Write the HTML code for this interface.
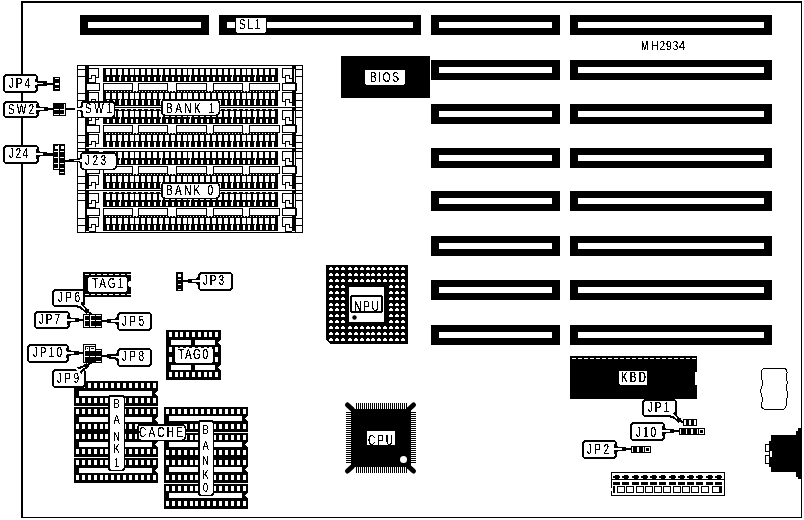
<!DOCTYPE html>
<html><head><meta charset="utf-8"><style>
html,body{margin:0;padding:0;background:#fff;}
svg{display:block;filter:grayscale(1);}
text{font-family:"Liberation Sans",sans-serif;}
</style></head><body>
<svg width="804" height="520" viewBox="0 0 804 520" shape-rendering="crispEdges">
<defs><filter id="crisp" x="-0.2" y="-0.2" width="1.4" height="1.4" filterUnits="objectBoundingBox"><feComponentTransfer><feFuncA type="discrete" tableValues="0 0 1 1 1"/></feComponentTransfer></filter></defs>
<rect x="0" y="0" width="804" height="520" fill="#fff"/>
<rect x="21" y="1" width="2" height="517" fill="#000"/>
<rect x="21" y="1" width="781" height="2" fill="#000"/>
<rect x="801" y="1" width="1" height="517" fill="#000"/>
<rect x="21" y="517" width="781" height="1" fill="#000"/>
<rect x="80" y="15" width="129" height="20" fill="#000"/>
<rect x="88" y="22" width="113" height="6" fill="#fff"/>
<rect x="219" y="15" width="202" height="20" fill="#000"/>
<rect x="227" y="22" width="8" height="6" fill="#fff"/>
<rect x="267" y="22" width="146" height="6" fill="#fff"/>
<rect x="431" y="15" width="129" height="20" fill="#000"/>
<rect x="439" y="22" width="113" height="6" fill="#fff"/>
<rect x="570" y="15" width="202" height="20" fill="#000"/>
<rect x="578" y="22" width="186" height="6" fill="#fff"/>
<rect x="431" y="60" width="129" height="20" fill="#000"/>
<rect x="439" y="67" width="113" height="6" fill="#fff"/>
<rect x="570" y="60" width="202" height="20" fill="#000"/>
<rect x="578" y="67" width="186" height="6" fill="#fff"/>
<rect x="431" y="104" width="129" height="20" fill="#000"/>
<rect x="439" y="111" width="113" height="6" fill="#fff"/>
<rect x="570" y="104" width="202" height="20" fill="#000"/>
<rect x="578" y="111" width="186" height="6" fill="#fff"/>
<rect x="431" y="148" width="129" height="20" fill="#000"/>
<rect x="439" y="155" width="113" height="6" fill="#fff"/>
<rect x="570" y="148" width="202" height="20" fill="#000"/>
<rect x="578" y="155" width="186" height="6" fill="#fff"/>
<rect x="431" y="191" width="129" height="20" fill="#000"/>
<rect x="439" y="198" width="113" height="6" fill="#fff"/>
<rect x="570" y="191" width="202" height="20" fill="#000"/>
<rect x="578" y="198" width="186" height="6" fill="#fff"/>
<rect x="431" y="236" width="129" height="20" fill="#000"/>
<rect x="439" y="243" width="113" height="6" fill="#fff"/>
<rect x="570" y="236" width="202" height="20" fill="#000"/>
<rect x="578" y="243" width="186" height="6" fill="#fff"/>
<rect x="431" y="280" width="129" height="20" fill="#000"/>
<rect x="439" y="287" width="113" height="6" fill="#fff"/>
<rect x="570" y="280" width="202" height="20" fill="#000"/>
<rect x="578" y="287" width="186" height="6" fill="#fff"/>
<rect x="431" y="325" width="129" height="20" fill="#000"/>
<rect x="439" y="332" width="113" height="6" fill="#fff"/>
<rect x="570" y="325" width="202" height="20" fill="#000"/>
<rect x="578" y="332" width="186" height="6" fill="#fff"/>
<rect x="341" y="56" width="89" height="42" fill="#000"/>
<text transform="translate(641,50) scale(0.72,1)" x="0" y="0" font-size="12.5" fill="#000" textLength="9.72" lengthAdjust="spacing" filter="url(#crisp)" >M</text>
<text transform="translate(651,50) scale(0.85,1)" x="0" y="0" font-size="12.5" fill="#000" textLength="40.00" lengthAdjust="spacing" filter="url(#crisp)" >H2934</text>
<rect x="77.5" y="65.5" width="225" height="167" fill="none" stroke="#000" stroke-width="1"/>
<rect x="103" y="68" width="175" height="14" fill="#000"/>
<rect x="106" y="69" width="4" height="6" fill="#fff"/>
<rect x="107" y="77" width="2" height="4" fill="#fff"/>
<rect x="112" y="69" width="4" height="6" fill="#fff"/>
<rect x="113" y="77" width="2" height="4" fill="#fff"/>
<rect x="118" y="69" width="4" height="6" fill="#fff"/>
<rect x="119" y="77" width="2" height="4" fill="#fff"/>
<rect x="120" y="75" width="1" height="6" fill="#fff"/>
<rect x="124" y="69" width="4" height="6" fill="#fff"/>
<rect x="125" y="77" width="2" height="4" fill="#fff"/>
<rect x="130" y="69" width="4" height="6" fill="#fff"/>
<rect x="131" y="77" width="2" height="4" fill="#fff"/>
<rect x="135" y="69" width="4" height="6" fill="#fff"/>
<rect x="136" y="77" width="2" height="4" fill="#fff"/>
<rect x="141" y="69" width="4" height="6" fill="#fff"/>
<rect x="142" y="77" width="2" height="4" fill="#fff"/>
<rect x="147" y="69" width="4" height="6" fill="#fff"/>
<rect x="148" y="77" width="2" height="4" fill="#fff"/>
<rect x="153" y="69" width="4" height="6" fill="#fff"/>
<rect x="154" y="77" width="2" height="4" fill="#fff"/>
<rect x="159" y="69" width="4" height="6" fill="#fff"/>
<rect x="160" y="77" width="2" height="4" fill="#fff"/>
<rect x="161" y="75" width="1" height="6" fill="#fff"/>
<rect x="165" y="69" width="4" height="6" fill="#fff"/>
<rect x="166" y="77" width="2" height="4" fill="#fff"/>
<rect x="171" y="69" width="4" height="6" fill="#fff"/>
<rect x="172" y="77" width="2" height="4" fill="#fff"/>
<rect x="177" y="69" width="4" height="6" fill="#fff"/>
<rect x="178" y="77" width="2" height="4" fill="#fff"/>
<rect x="183" y="69" width="4" height="6" fill="#fff"/>
<rect x="184" y="77" width="2" height="4" fill="#fff"/>
<rect x="188" y="69" width="4" height="6" fill="#fff"/>
<rect x="189" y="77" width="2" height="4" fill="#fff"/>
<rect x="190" y="75" width="1" height="6" fill="#fff"/>
<rect x="194" y="69" width="4" height="6" fill="#fff"/>
<rect x="195" y="77" width="2" height="4" fill="#fff"/>
<rect x="200" y="69" width="4" height="6" fill="#fff"/>
<rect x="201" y="77" width="2" height="4" fill="#fff"/>
<rect x="206" y="69" width="4" height="6" fill="#fff"/>
<rect x="207" y="77" width="2" height="4" fill="#fff"/>
<rect x="212" y="69" width="4" height="6" fill="#fff"/>
<rect x="213" y="77" width="2" height="4" fill="#fff"/>
<rect x="218" y="69" width="4" height="6" fill="#fff"/>
<rect x="219" y="77" width="2" height="4" fill="#fff"/>
<rect x="224" y="69" width="4" height="6" fill="#fff"/>
<rect x="225" y="77" width="2" height="4" fill="#fff"/>
<rect x="230" y="69" width="4" height="6" fill="#fff"/>
<rect x="231" y="77" width="2" height="4" fill="#fff"/>
<rect x="232" y="75" width="1" height="6" fill="#fff"/>
<rect x="236" y="69" width="4" height="6" fill="#fff"/>
<rect x="237" y="77" width="2" height="4" fill="#fff"/>
<rect x="242" y="69" width="4" height="6" fill="#fff"/>
<rect x="243" y="77" width="2" height="4" fill="#fff"/>
<rect x="247" y="69" width="4" height="6" fill="#fff"/>
<rect x="248" y="77" width="2" height="4" fill="#fff"/>
<rect x="253" y="69" width="4" height="6" fill="#fff"/>
<rect x="254" y="77" width="2" height="4" fill="#fff"/>
<rect x="255" y="75" width="1" height="6" fill="#fff"/>
<rect x="259" y="69" width="4" height="6" fill="#fff"/>
<rect x="260" y="77" width="2" height="4" fill="#fff"/>
<rect x="265" y="69" width="4" height="6" fill="#fff"/>
<rect x="266" y="77" width="2" height="4" fill="#fff"/>
<rect x="271" y="69" width="4" height="6" fill="#fff"/>
<rect x="272" y="77" width="2" height="4" fill="#fff"/>
<rect x="103" y="91" width="175" height="15" fill="#000"/>
<rect x="106" y="91" width="1" height="1" fill="#fff"/>
<rect x="109" y="91" width="1" height="1" fill="#fff"/>
<rect x="112" y="91" width="1" height="1" fill="#fff"/>
<rect x="115" y="91" width="1" height="1" fill="#fff"/>
<rect x="118" y="91" width="1" height="1" fill="#fff"/>
<rect x="121" y="91" width="1" height="1" fill="#fff"/>
<rect x="124" y="91" width="1" height="1" fill="#fff"/>
<rect x="127" y="91" width="1" height="1" fill="#fff"/>
<rect x="130" y="91" width="1" height="1" fill="#fff"/>
<rect x="133" y="91" width="1" height="1" fill="#fff"/>
<rect x="136" y="91" width="1" height="1" fill="#fff"/>
<rect x="139" y="91" width="1" height="1" fill="#fff"/>
<rect x="142" y="91" width="1" height="1" fill="#fff"/>
<rect x="145" y="91" width="1" height="1" fill="#fff"/>
<rect x="148" y="91" width="1" height="1" fill="#fff"/>
<rect x="151" y="91" width="1" height="1" fill="#fff"/>
<rect x="154" y="91" width="1" height="1" fill="#fff"/>
<rect x="157" y="91" width="1" height="1" fill="#fff"/>
<rect x="160" y="91" width="1" height="1" fill="#fff"/>
<rect x="163" y="91" width="1" height="1" fill="#fff"/>
<rect x="166" y="91" width="1" height="1" fill="#fff"/>
<rect x="169" y="91" width="1" height="1" fill="#fff"/>
<rect x="172" y="91" width="1" height="1" fill="#fff"/>
<rect x="175" y="91" width="1" height="1" fill="#fff"/>
<rect x="178" y="91" width="1" height="1" fill="#fff"/>
<rect x="181" y="91" width="1" height="1" fill="#fff"/>
<rect x="184" y="91" width="1" height="1" fill="#fff"/>
<rect x="187" y="91" width="1" height="1" fill="#fff"/>
<rect x="190" y="91" width="1" height="1" fill="#fff"/>
<rect x="193" y="91" width="1" height="1" fill="#fff"/>
<rect x="196" y="91" width="1" height="1" fill="#fff"/>
<rect x="199" y="91" width="1" height="1" fill="#fff"/>
<rect x="202" y="91" width="1" height="1" fill="#fff"/>
<rect x="205" y="91" width="1" height="1" fill="#fff"/>
<rect x="208" y="91" width="1" height="1" fill="#fff"/>
<rect x="211" y="91" width="1" height="1" fill="#fff"/>
<rect x="214" y="91" width="1" height="1" fill="#fff"/>
<rect x="217" y="91" width="1" height="1" fill="#fff"/>
<rect x="220" y="91" width="1" height="1" fill="#fff"/>
<rect x="223" y="91" width="1" height="1" fill="#fff"/>
<rect x="226" y="91" width="1" height="1" fill="#fff"/>
<rect x="229" y="91" width="1" height="1" fill="#fff"/>
<rect x="232" y="91" width="1" height="1" fill="#fff"/>
<rect x="235" y="91" width="1" height="1" fill="#fff"/>
<rect x="238" y="91" width="1" height="1" fill="#fff"/>
<rect x="241" y="91" width="1" height="1" fill="#fff"/>
<rect x="244" y="91" width="1" height="1" fill="#fff"/>
<rect x="247" y="91" width="1" height="1" fill="#fff"/>
<rect x="250" y="91" width="1" height="1" fill="#fff"/>
<rect x="253" y="91" width="1" height="1" fill="#fff"/>
<rect x="256" y="91" width="1" height="1" fill="#fff"/>
<rect x="259" y="91" width="1" height="1" fill="#fff"/>
<rect x="262" y="91" width="1" height="1" fill="#fff"/>
<rect x="265" y="91" width="1" height="1" fill="#fff"/>
<rect x="268" y="91" width="1" height="1" fill="#fff"/>
<rect x="271" y="91" width="1" height="1" fill="#fff"/>
<rect x="274" y="91" width="1" height="1" fill="#fff"/>
<rect x="106" y="93" width="4" height="6" fill="#fff"/>
<rect x="107" y="100" width="2" height="5" fill="#fff"/>
<rect x="112" y="93" width="4" height="6" fill="#fff"/>
<rect x="113" y="100" width="2" height="5" fill="#fff"/>
<rect x="118" y="93" width="4" height="6" fill="#fff"/>
<rect x="119" y="100" width="2" height="5" fill="#fff"/>
<rect x="120" y="99" width="1" height="6" fill="#fff"/>
<rect x="124" y="93" width="4" height="6" fill="#fff"/>
<rect x="125" y="100" width="2" height="5" fill="#fff"/>
<rect x="130" y="93" width="4" height="6" fill="#fff"/>
<rect x="131" y="100" width="2" height="5" fill="#fff"/>
<rect x="135" y="93" width="4" height="6" fill="#fff"/>
<rect x="136" y="100" width="2" height="5" fill="#fff"/>
<rect x="141" y="93" width="4" height="6" fill="#fff"/>
<rect x="142" y="100" width="2" height="5" fill="#fff"/>
<rect x="147" y="93" width="4" height="6" fill="#fff"/>
<rect x="148" y="100" width="2" height="5" fill="#fff"/>
<rect x="153" y="93" width="4" height="6" fill="#fff"/>
<rect x="154" y="100" width="2" height="5" fill="#fff"/>
<rect x="159" y="93" width="4" height="6" fill="#fff"/>
<rect x="160" y="100" width="2" height="5" fill="#fff"/>
<rect x="161" y="99" width="1" height="6" fill="#fff"/>
<rect x="165" y="93" width="4" height="6" fill="#fff"/>
<rect x="166" y="100" width="2" height="5" fill="#fff"/>
<rect x="171" y="93" width="4" height="6" fill="#fff"/>
<rect x="172" y="100" width="2" height="5" fill="#fff"/>
<rect x="177" y="93" width="4" height="6" fill="#fff"/>
<rect x="178" y="100" width="2" height="5" fill="#fff"/>
<rect x="183" y="93" width="4" height="6" fill="#fff"/>
<rect x="184" y="100" width="2" height="5" fill="#fff"/>
<rect x="188" y="93" width="4" height="6" fill="#fff"/>
<rect x="189" y="100" width="2" height="5" fill="#fff"/>
<rect x="190" y="99" width="1" height="6" fill="#fff"/>
<rect x="194" y="93" width="4" height="6" fill="#fff"/>
<rect x="195" y="100" width="2" height="5" fill="#fff"/>
<rect x="200" y="93" width="4" height="6" fill="#fff"/>
<rect x="201" y="100" width="2" height="5" fill="#fff"/>
<rect x="206" y="93" width="4" height="6" fill="#fff"/>
<rect x="207" y="100" width="2" height="5" fill="#fff"/>
<rect x="212" y="93" width="4" height="6" fill="#fff"/>
<rect x="213" y="100" width="2" height="5" fill="#fff"/>
<rect x="218" y="93" width="4" height="6" fill="#fff"/>
<rect x="219" y="100" width="2" height="5" fill="#fff"/>
<rect x="224" y="93" width="4" height="6" fill="#fff"/>
<rect x="225" y="100" width="2" height="5" fill="#fff"/>
<rect x="230" y="93" width="4" height="6" fill="#fff"/>
<rect x="231" y="100" width="2" height="5" fill="#fff"/>
<rect x="232" y="99" width="1" height="6" fill="#fff"/>
<rect x="236" y="93" width="4" height="6" fill="#fff"/>
<rect x="237" y="100" width="2" height="5" fill="#fff"/>
<rect x="242" y="93" width="4" height="6" fill="#fff"/>
<rect x="243" y="100" width="2" height="5" fill="#fff"/>
<rect x="247" y="93" width="4" height="6" fill="#fff"/>
<rect x="248" y="100" width="2" height="5" fill="#fff"/>
<rect x="253" y="93" width="4" height="6" fill="#fff"/>
<rect x="254" y="100" width="2" height="5" fill="#fff"/>
<rect x="255" y="99" width="1" height="6" fill="#fff"/>
<rect x="259" y="93" width="4" height="6" fill="#fff"/>
<rect x="260" y="100" width="2" height="5" fill="#fff"/>
<rect x="265" y="93" width="4" height="6" fill="#fff"/>
<rect x="266" y="100" width="2" height="5" fill="#fff"/>
<rect x="271" y="93" width="4" height="6" fill="#fff"/>
<rect x="272" y="100" width="2" height="5" fill="#fff"/>
<rect x="103.5" y="83.5" width="29" height="7" fill="#fff" stroke="#000" stroke-width="1"/>
<rect x="138.5" y="83.5" width="29" height="7" fill="#fff" stroke="#000" stroke-width="1"/>
<rect x="176.5" y="83.5" width="30" height="7" fill="#fff" stroke="#000" stroke-width="1"/>
<rect x="213.5" y="83.5" width="29" height="7" fill="#fff" stroke="#000" stroke-width="1"/>
<rect x="249.5" y="83.5" width="30" height="7" fill="#fff" stroke="#000" stroke-width="1"/>
<rect x="85" y="65" width="4" height="41" fill="#000"/>
<rect x="86.5" y="83.5" width="13" height="7" fill="#fff" stroke="#000" stroke-width="1"/>
<rect x="89" y="68" width="10" height="1" fill="#000"/>
<rect x="98" y="68" width="1" height="10" fill="#000"/>
<rect x="95" y="77" width="4" height="1" fill="#000"/>
<rect x="95" y="75" width="1" height="8" fill="#000"/>
<rect x="91" y="75" width="5" height="1" fill="#000"/>
<rect x="91" y="75" width="1" height="4" fill="#000"/>
<rect x="89" y="78" width="3" height="1" fill="#000"/>
<rect x="89" y="82" width="7" height="1" fill="#000"/>
<rect x="89" y="92" width="10" height="1" fill="#000"/>
<rect x="98" y="92" width="1" height="10" fill="#000"/>
<rect x="95" y="101" width="4" height="1" fill="#000"/>
<rect x="95" y="99" width="1" height="8" fill="#000"/>
<rect x="91" y="99" width="5" height="1" fill="#000"/>
<rect x="91" y="99" width="1" height="4" fill="#000"/>
<rect x="89" y="102" width="3" height="1" fill="#000"/>
<rect x="89" y="106" width="7" height="1" fill="#000"/>
<rect x="292" y="65" width="4" height="41" fill="#000"/>
<rect x="294" y="69" width="1" height="13" fill="#fff"/>
<rect x="282.5" y="83.5" width="14" height="7" fill="#fff" stroke="#000" stroke-width="1"/>
<rect x="282" y="68" width="10" height="1" fill="#000"/>
<rect x="282" y="68" width="1" height="10" fill="#000"/>
<rect x="282" y="77" width="4" height="1" fill="#000"/>
<rect x="285" y="75" width="1" height="8" fill="#000"/>
<rect x="285" y="75" width="5" height="1" fill="#000"/>
<rect x="289" y="75" width="1" height="4" fill="#000"/>
<rect x="289" y="78" width="3" height="1" fill="#000"/>
<rect x="285" y="82" width="7" height="1" fill="#000"/>
<rect x="282" y="92" width="10" height="1" fill="#000"/>
<rect x="282" y="92" width="1" height="10" fill="#000"/>
<rect x="282" y="101" width="4" height="1" fill="#000"/>
<rect x="285" y="99" width="1" height="8" fill="#000"/>
<rect x="285" y="99" width="5" height="1" fill="#000"/>
<rect x="289" y="99" width="1" height="4" fill="#000"/>
<rect x="289" y="102" width="3" height="1" fill="#000"/>
<rect x="285" y="106" width="7" height="1" fill="#000"/>
<rect x="77" y="69" width="9" height="1" fill="#000"/>
<rect x="77" y="76" width="9" height="1" fill="#000"/>
<rect x="77" y="93" width="9" height="1" fill="#000"/>
<rect x="77" y="100" width="9" height="1" fill="#000"/>
<rect x="295" y="69" width="8" height="1" fill="#000"/>
<rect x="295" y="76" width="8" height="1" fill="#000"/>
<rect x="295" y="93" width="8" height="1" fill="#000"/>
<rect x="295" y="100" width="8" height="1" fill="#000"/>
<rect x="78" y="106" width="224" height="1" fill="#fff"/>
<rect x="78" y="107" width="224" height="1" fill="#000"/>
<rect x="78" y="108" width="224" height="1" fill="#fff"/>
<rect x="103" y="109" width="175" height="1" fill="#000"/>
<rect x="107" y="109" width="2" height="1" fill="#fff"/>
<rect x="113" y="109" width="2" height="1" fill="#fff"/>
<rect x="119" y="109" width="2" height="1" fill="#fff"/>
<rect x="125" y="109" width="2" height="1" fill="#fff"/>
<rect x="131" y="109" width="2" height="1" fill="#fff"/>
<rect x="136" y="109" width="2" height="1" fill="#fff"/>
<rect x="142" y="109" width="2" height="1" fill="#fff"/>
<rect x="148" y="109" width="2" height="1" fill="#fff"/>
<rect x="154" y="109" width="2" height="1" fill="#fff"/>
<rect x="160" y="109" width="2" height="1" fill="#fff"/>
<rect x="166" y="109" width="2" height="1" fill="#fff"/>
<rect x="172" y="109" width="2" height="1" fill="#fff"/>
<rect x="178" y="109" width="2" height="1" fill="#fff"/>
<rect x="184" y="109" width="2" height="1" fill="#fff"/>
<rect x="189" y="109" width="2" height="1" fill="#fff"/>
<rect x="195" y="109" width="2" height="1" fill="#fff"/>
<rect x="201" y="109" width="2" height="1" fill="#fff"/>
<rect x="207" y="109" width="2" height="1" fill="#fff"/>
<rect x="213" y="109" width="2" height="1" fill="#fff"/>
<rect x="219" y="109" width="2" height="1" fill="#fff"/>
<rect x="225" y="109" width="2" height="1" fill="#fff"/>
<rect x="231" y="109" width="2" height="1" fill="#fff"/>
<rect x="237" y="109" width="2" height="1" fill="#fff"/>
<rect x="243" y="109" width="2" height="1" fill="#fff"/>
<rect x="248" y="109" width="2" height="1" fill="#fff"/>
<rect x="254" y="109" width="2" height="1" fill="#fff"/>
<rect x="260" y="109" width="2" height="1" fill="#fff"/>
<rect x="266" y="109" width="2" height="1" fill="#fff"/>
<rect x="272" y="109" width="2" height="1" fill="#fff"/>
<rect x="103" y="110" width="175" height="14" fill="#000"/>
<rect x="106" y="111" width="4" height="6" fill="#fff"/>
<rect x="107" y="119" width="2" height="4" fill="#fff"/>
<rect x="112" y="111" width="4" height="6" fill="#fff"/>
<rect x="113" y="119" width="2" height="4" fill="#fff"/>
<rect x="118" y="111" width="4" height="6" fill="#fff"/>
<rect x="119" y="119" width="2" height="4" fill="#fff"/>
<rect x="120" y="117" width="1" height="6" fill="#fff"/>
<rect x="124" y="111" width="4" height="6" fill="#fff"/>
<rect x="125" y="119" width="2" height="4" fill="#fff"/>
<rect x="130" y="111" width="4" height="6" fill="#fff"/>
<rect x="131" y="119" width="2" height="4" fill="#fff"/>
<rect x="135" y="111" width="4" height="6" fill="#fff"/>
<rect x="136" y="119" width="2" height="4" fill="#fff"/>
<rect x="141" y="111" width="4" height="6" fill="#fff"/>
<rect x="142" y="119" width="2" height="4" fill="#fff"/>
<rect x="147" y="111" width="4" height="6" fill="#fff"/>
<rect x="148" y="119" width="2" height="4" fill="#fff"/>
<rect x="153" y="111" width="4" height="6" fill="#fff"/>
<rect x="154" y="119" width="2" height="4" fill="#fff"/>
<rect x="159" y="111" width="4" height="6" fill="#fff"/>
<rect x="160" y="119" width="2" height="4" fill="#fff"/>
<rect x="161" y="117" width="1" height="6" fill="#fff"/>
<rect x="165" y="111" width="4" height="6" fill="#fff"/>
<rect x="166" y="119" width="2" height="4" fill="#fff"/>
<rect x="171" y="111" width="4" height="6" fill="#fff"/>
<rect x="172" y="119" width="2" height="4" fill="#fff"/>
<rect x="177" y="111" width="4" height="6" fill="#fff"/>
<rect x="178" y="119" width="2" height="4" fill="#fff"/>
<rect x="183" y="111" width="4" height="6" fill="#fff"/>
<rect x="184" y="119" width="2" height="4" fill="#fff"/>
<rect x="188" y="111" width="4" height="6" fill="#fff"/>
<rect x="189" y="119" width="2" height="4" fill="#fff"/>
<rect x="190" y="117" width="1" height="6" fill="#fff"/>
<rect x="194" y="111" width="4" height="6" fill="#fff"/>
<rect x="195" y="119" width="2" height="4" fill="#fff"/>
<rect x="200" y="111" width="4" height="6" fill="#fff"/>
<rect x="201" y="119" width="2" height="4" fill="#fff"/>
<rect x="206" y="111" width="4" height="6" fill="#fff"/>
<rect x="207" y="119" width="2" height="4" fill="#fff"/>
<rect x="212" y="111" width="4" height="6" fill="#fff"/>
<rect x="213" y="119" width="2" height="4" fill="#fff"/>
<rect x="218" y="111" width="4" height="6" fill="#fff"/>
<rect x="219" y="119" width="2" height="4" fill="#fff"/>
<rect x="224" y="111" width="4" height="6" fill="#fff"/>
<rect x="225" y="119" width="2" height="4" fill="#fff"/>
<rect x="230" y="111" width="4" height="6" fill="#fff"/>
<rect x="231" y="119" width="2" height="4" fill="#fff"/>
<rect x="232" y="117" width="1" height="6" fill="#fff"/>
<rect x="236" y="111" width="4" height="6" fill="#fff"/>
<rect x="237" y="119" width="2" height="4" fill="#fff"/>
<rect x="242" y="111" width="4" height="6" fill="#fff"/>
<rect x="243" y="119" width="2" height="4" fill="#fff"/>
<rect x="247" y="111" width="4" height="6" fill="#fff"/>
<rect x="248" y="119" width="2" height="4" fill="#fff"/>
<rect x="253" y="111" width="4" height="6" fill="#fff"/>
<rect x="254" y="119" width="2" height="4" fill="#fff"/>
<rect x="255" y="117" width="1" height="6" fill="#fff"/>
<rect x="259" y="111" width="4" height="6" fill="#fff"/>
<rect x="260" y="119" width="2" height="4" fill="#fff"/>
<rect x="265" y="111" width="4" height="6" fill="#fff"/>
<rect x="266" y="119" width="2" height="4" fill="#fff"/>
<rect x="271" y="111" width="4" height="6" fill="#fff"/>
<rect x="272" y="119" width="2" height="4" fill="#fff"/>
<rect x="103" y="133" width="175" height="14" fill="#000"/>
<rect x="106" y="133" width="1" height="1" fill="#fff"/>
<rect x="109" y="133" width="1" height="1" fill="#fff"/>
<rect x="112" y="133" width="1" height="1" fill="#fff"/>
<rect x="115" y="133" width="1" height="1" fill="#fff"/>
<rect x="118" y="133" width="1" height="1" fill="#fff"/>
<rect x="121" y="133" width="1" height="1" fill="#fff"/>
<rect x="124" y="133" width="1" height="1" fill="#fff"/>
<rect x="127" y="133" width="1" height="1" fill="#fff"/>
<rect x="130" y="133" width="1" height="1" fill="#fff"/>
<rect x="133" y="133" width="1" height="1" fill="#fff"/>
<rect x="136" y="133" width="1" height="1" fill="#fff"/>
<rect x="139" y="133" width="1" height="1" fill="#fff"/>
<rect x="142" y="133" width="1" height="1" fill="#fff"/>
<rect x="145" y="133" width="1" height="1" fill="#fff"/>
<rect x="148" y="133" width="1" height="1" fill="#fff"/>
<rect x="151" y="133" width="1" height="1" fill="#fff"/>
<rect x="154" y="133" width="1" height="1" fill="#fff"/>
<rect x="157" y="133" width="1" height="1" fill="#fff"/>
<rect x="160" y="133" width="1" height="1" fill="#fff"/>
<rect x="163" y="133" width="1" height="1" fill="#fff"/>
<rect x="166" y="133" width="1" height="1" fill="#fff"/>
<rect x="169" y="133" width="1" height="1" fill="#fff"/>
<rect x="172" y="133" width="1" height="1" fill="#fff"/>
<rect x="175" y="133" width="1" height="1" fill="#fff"/>
<rect x="178" y="133" width="1" height="1" fill="#fff"/>
<rect x="181" y="133" width="1" height="1" fill="#fff"/>
<rect x="184" y="133" width="1" height="1" fill="#fff"/>
<rect x="187" y="133" width="1" height="1" fill="#fff"/>
<rect x="190" y="133" width="1" height="1" fill="#fff"/>
<rect x="193" y="133" width="1" height="1" fill="#fff"/>
<rect x="196" y="133" width="1" height="1" fill="#fff"/>
<rect x="199" y="133" width="1" height="1" fill="#fff"/>
<rect x="202" y="133" width="1" height="1" fill="#fff"/>
<rect x="205" y="133" width="1" height="1" fill="#fff"/>
<rect x="208" y="133" width="1" height="1" fill="#fff"/>
<rect x="211" y="133" width="1" height="1" fill="#fff"/>
<rect x="214" y="133" width="1" height="1" fill="#fff"/>
<rect x="217" y="133" width="1" height="1" fill="#fff"/>
<rect x="220" y="133" width="1" height="1" fill="#fff"/>
<rect x="223" y="133" width="1" height="1" fill="#fff"/>
<rect x="226" y="133" width="1" height="1" fill="#fff"/>
<rect x="229" y="133" width="1" height="1" fill="#fff"/>
<rect x="232" y="133" width="1" height="1" fill="#fff"/>
<rect x="235" y="133" width="1" height="1" fill="#fff"/>
<rect x="238" y="133" width="1" height="1" fill="#fff"/>
<rect x="241" y="133" width="1" height="1" fill="#fff"/>
<rect x="244" y="133" width="1" height="1" fill="#fff"/>
<rect x="247" y="133" width="1" height="1" fill="#fff"/>
<rect x="250" y="133" width="1" height="1" fill="#fff"/>
<rect x="253" y="133" width="1" height="1" fill="#fff"/>
<rect x="256" y="133" width="1" height="1" fill="#fff"/>
<rect x="259" y="133" width="1" height="1" fill="#fff"/>
<rect x="262" y="133" width="1" height="1" fill="#fff"/>
<rect x="265" y="133" width="1" height="1" fill="#fff"/>
<rect x="268" y="133" width="1" height="1" fill="#fff"/>
<rect x="271" y="133" width="1" height="1" fill="#fff"/>
<rect x="274" y="133" width="1" height="1" fill="#fff"/>
<rect x="106" y="135" width="4" height="6" fill="#fff"/>
<rect x="107" y="142" width="2" height="5" fill="#fff"/>
<rect x="112" y="135" width="4" height="6" fill="#fff"/>
<rect x="113" y="142" width="2" height="5" fill="#fff"/>
<rect x="118" y="135" width="4" height="6" fill="#fff"/>
<rect x="119" y="142" width="2" height="5" fill="#fff"/>
<rect x="120" y="141" width="1" height="6" fill="#fff"/>
<rect x="124" y="135" width="4" height="6" fill="#fff"/>
<rect x="125" y="142" width="2" height="5" fill="#fff"/>
<rect x="130" y="135" width="4" height="6" fill="#fff"/>
<rect x="131" y="142" width="2" height="5" fill="#fff"/>
<rect x="135" y="135" width="4" height="6" fill="#fff"/>
<rect x="136" y="142" width="2" height="5" fill="#fff"/>
<rect x="141" y="135" width="4" height="6" fill="#fff"/>
<rect x="142" y="142" width="2" height="5" fill="#fff"/>
<rect x="147" y="135" width="4" height="6" fill="#fff"/>
<rect x="148" y="142" width="2" height="5" fill="#fff"/>
<rect x="153" y="135" width="4" height="6" fill="#fff"/>
<rect x="154" y="142" width="2" height="5" fill="#fff"/>
<rect x="159" y="135" width="4" height="6" fill="#fff"/>
<rect x="160" y="142" width="2" height="5" fill="#fff"/>
<rect x="161" y="141" width="1" height="6" fill="#fff"/>
<rect x="165" y="135" width="4" height="6" fill="#fff"/>
<rect x="166" y="142" width="2" height="5" fill="#fff"/>
<rect x="171" y="135" width="4" height="6" fill="#fff"/>
<rect x="172" y="142" width="2" height="5" fill="#fff"/>
<rect x="177" y="135" width="4" height="6" fill="#fff"/>
<rect x="178" y="142" width="2" height="5" fill="#fff"/>
<rect x="183" y="135" width="4" height="6" fill="#fff"/>
<rect x="184" y="142" width="2" height="5" fill="#fff"/>
<rect x="188" y="135" width="4" height="6" fill="#fff"/>
<rect x="189" y="142" width="2" height="5" fill="#fff"/>
<rect x="190" y="141" width="1" height="6" fill="#fff"/>
<rect x="194" y="135" width="4" height="6" fill="#fff"/>
<rect x="195" y="142" width="2" height="5" fill="#fff"/>
<rect x="200" y="135" width="4" height="6" fill="#fff"/>
<rect x="201" y="142" width="2" height="5" fill="#fff"/>
<rect x="206" y="135" width="4" height="6" fill="#fff"/>
<rect x="207" y="142" width="2" height="5" fill="#fff"/>
<rect x="212" y="135" width="4" height="6" fill="#fff"/>
<rect x="213" y="142" width="2" height="5" fill="#fff"/>
<rect x="218" y="135" width="4" height="6" fill="#fff"/>
<rect x="219" y="142" width="2" height="5" fill="#fff"/>
<rect x="224" y="135" width="4" height="6" fill="#fff"/>
<rect x="225" y="142" width="2" height="5" fill="#fff"/>
<rect x="230" y="135" width="4" height="6" fill="#fff"/>
<rect x="231" y="142" width="2" height="5" fill="#fff"/>
<rect x="232" y="141" width="1" height="6" fill="#fff"/>
<rect x="236" y="135" width="4" height="6" fill="#fff"/>
<rect x="237" y="142" width="2" height="5" fill="#fff"/>
<rect x="242" y="135" width="4" height="6" fill="#fff"/>
<rect x="243" y="142" width="2" height="5" fill="#fff"/>
<rect x="247" y="135" width="4" height="6" fill="#fff"/>
<rect x="248" y="142" width="2" height="5" fill="#fff"/>
<rect x="253" y="135" width="4" height="6" fill="#fff"/>
<rect x="254" y="142" width="2" height="5" fill="#fff"/>
<rect x="255" y="141" width="1" height="6" fill="#fff"/>
<rect x="259" y="135" width="4" height="6" fill="#fff"/>
<rect x="260" y="142" width="2" height="5" fill="#fff"/>
<rect x="265" y="135" width="4" height="6" fill="#fff"/>
<rect x="266" y="142" width="2" height="5" fill="#fff"/>
<rect x="271" y="135" width="4" height="6" fill="#fff"/>
<rect x="272" y="142" width="2" height="5" fill="#fff"/>
<rect x="103.5" y="125.5" width="29" height="7" fill="#fff" stroke="#000" stroke-width="1"/>
<rect x="138.5" y="125.5" width="29" height="7" fill="#fff" stroke="#000" stroke-width="1"/>
<rect x="176.5" y="125.5" width="30" height="7" fill="#fff" stroke="#000" stroke-width="1"/>
<rect x="213.5" y="125.5" width="29" height="7" fill="#fff" stroke="#000" stroke-width="1"/>
<rect x="249.5" y="125.5" width="30" height="7" fill="#fff" stroke="#000" stroke-width="1"/>
<rect x="85" y="108" width="4" height="39" fill="#000"/>
<rect x="86.5" y="125.5" width="13" height="7" fill="#fff" stroke="#000" stroke-width="1"/>
<rect x="89" y="110" width="10" height="1" fill="#000"/>
<rect x="98" y="110" width="1" height="10" fill="#000"/>
<rect x="95" y="119" width="4" height="1" fill="#000"/>
<rect x="95" y="117" width="1" height="8" fill="#000"/>
<rect x="91" y="117" width="5" height="1" fill="#000"/>
<rect x="91" y="117" width="1" height="4" fill="#000"/>
<rect x="89" y="120" width="3" height="1" fill="#000"/>
<rect x="89" y="124" width="7" height="1" fill="#000"/>
<rect x="89" y="134" width="10" height="1" fill="#000"/>
<rect x="98" y="134" width="1" height="10" fill="#000"/>
<rect x="95" y="143" width="4" height="1" fill="#000"/>
<rect x="95" y="141" width="1" height="8" fill="#000"/>
<rect x="91" y="141" width="5" height="1" fill="#000"/>
<rect x="91" y="141" width="1" height="4" fill="#000"/>
<rect x="89" y="144" width="3" height="1" fill="#000"/>
<rect x="89" y="148" width="7" height="1" fill="#000"/>
<rect x="292" y="108" width="4" height="39" fill="#000"/>
<rect x="294" y="111" width="1" height="13" fill="#fff"/>
<rect x="282.5" y="125.5" width="14" height="7" fill="#fff" stroke="#000" stroke-width="1"/>
<rect x="282" y="110" width="10" height="1" fill="#000"/>
<rect x="282" y="110" width="1" height="10" fill="#000"/>
<rect x="282" y="119" width="4" height="1" fill="#000"/>
<rect x="285" y="117" width="1" height="8" fill="#000"/>
<rect x="285" y="117" width="5" height="1" fill="#000"/>
<rect x="289" y="117" width="1" height="4" fill="#000"/>
<rect x="289" y="120" width="3" height="1" fill="#000"/>
<rect x="285" y="124" width="7" height="1" fill="#000"/>
<rect x="282" y="134" width="10" height="1" fill="#000"/>
<rect x="282" y="134" width="1" height="10" fill="#000"/>
<rect x="282" y="143" width="4" height="1" fill="#000"/>
<rect x="285" y="141" width="1" height="8" fill="#000"/>
<rect x="285" y="141" width="5" height="1" fill="#000"/>
<rect x="289" y="141" width="1" height="4" fill="#000"/>
<rect x="289" y="144" width="3" height="1" fill="#000"/>
<rect x="285" y="148" width="7" height="1" fill="#000"/>
<rect x="77" y="110" width="9" height="1" fill="#000"/>
<rect x="77" y="117" width="9" height="1" fill="#000"/>
<rect x="77" y="135" width="9" height="1" fill="#000"/>
<rect x="77" y="142" width="9" height="1" fill="#000"/>
<rect x="295" y="110" width="8" height="1" fill="#000"/>
<rect x="295" y="117" width="8" height="1" fill="#000"/>
<rect x="295" y="135" width="8" height="1" fill="#000"/>
<rect x="295" y="142" width="8" height="1" fill="#000"/>
<rect x="78" y="147" width="224" height="1" fill="#fff"/>
<rect x="78" y="148" width="224" height="1" fill="#000"/>
<rect x="78" y="149" width="224" height="1" fill="#fff"/>
<rect x="78" y="150" width="224" height="1" fill="#fff"/>
<rect x="103" y="151" width="175" height="1" fill="#000"/>
<rect x="107" y="151" width="2" height="1" fill="#fff"/>
<rect x="113" y="151" width="2" height="1" fill="#fff"/>
<rect x="119" y="151" width="2" height="1" fill="#fff"/>
<rect x="125" y="151" width="2" height="1" fill="#fff"/>
<rect x="131" y="151" width="2" height="1" fill="#fff"/>
<rect x="136" y="151" width="2" height="1" fill="#fff"/>
<rect x="142" y="151" width="2" height="1" fill="#fff"/>
<rect x="148" y="151" width="2" height="1" fill="#fff"/>
<rect x="154" y="151" width="2" height="1" fill="#fff"/>
<rect x="160" y="151" width="2" height="1" fill="#fff"/>
<rect x="166" y="151" width="2" height="1" fill="#fff"/>
<rect x="172" y="151" width="2" height="1" fill="#fff"/>
<rect x="178" y="151" width="2" height="1" fill="#fff"/>
<rect x="184" y="151" width="2" height="1" fill="#fff"/>
<rect x="189" y="151" width="2" height="1" fill="#fff"/>
<rect x="195" y="151" width="2" height="1" fill="#fff"/>
<rect x="201" y="151" width="2" height="1" fill="#fff"/>
<rect x="207" y="151" width="2" height="1" fill="#fff"/>
<rect x="213" y="151" width="2" height="1" fill="#fff"/>
<rect x="219" y="151" width="2" height="1" fill="#fff"/>
<rect x="225" y="151" width="2" height="1" fill="#fff"/>
<rect x="231" y="151" width="2" height="1" fill="#fff"/>
<rect x="237" y="151" width="2" height="1" fill="#fff"/>
<rect x="243" y="151" width="2" height="1" fill="#fff"/>
<rect x="248" y="151" width="2" height="1" fill="#fff"/>
<rect x="254" y="151" width="2" height="1" fill="#fff"/>
<rect x="260" y="151" width="2" height="1" fill="#fff"/>
<rect x="266" y="151" width="2" height="1" fill="#fff"/>
<rect x="272" y="151" width="2" height="1" fill="#fff"/>
<rect x="103" y="151" width="175" height="14" fill="#000"/>
<rect x="106" y="152" width="4" height="6" fill="#fff"/>
<rect x="107" y="160" width="2" height="4" fill="#fff"/>
<rect x="112" y="152" width="4" height="6" fill="#fff"/>
<rect x="113" y="160" width="2" height="4" fill="#fff"/>
<rect x="118" y="152" width="4" height="6" fill="#fff"/>
<rect x="119" y="160" width="2" height="4" fill="#fff"/>
<rect x="120" y="158" width="1" height="6" fill="#fff"/>
<rect x="124" y="152" width="4" height="6" fill="#fff"/>
<rect x="125" y="160" width="2" height="4" fill="#fff"/>
<rect x="130" y="152" width="4" height="6" fill="#fff"/>
<rect x="131" y="160" width="2" height="4" fill="#fff"/>
<rect x="135" y="152" width="4" height="6" fill="#fff"/>
<rect x="136" y="160" width="2" height="4" fill="#fff"/>
<rect x="141" y="152" width="4" height="6" fill="#fff"/>
<rect x="142" y="160" width="2" height="4" fill="#fff"/>
<rect x="147" y="152" width="4" height="6" fill="#fff"/>
<rect x="148" y="160" width="2" height="4" fill="#fff"/>
<rect x="153" y="152" width="4" height="6" fill="#fff"/>
<rect x="154" y="160" width="2" height="4" fill="#fff"/>
<rect x="159" y="152" width="4" height="6" fill="#fff"/>
<rect x="160" y="160" width="2" height="4" fill="#fff"/>
<rect x="161" y="158" width="1" height="6" fill="#fff"/>
<rect x="165" y="152" width="4" height="6" fill="#fff"/>
<rect x="166" y="160" width="2" height="4" fill="#fff"/>
<rect x="171" y="152" width="4" height="6" fill="#fff"/>
<rect x="172" y="160" width="2" height="4" fill="#fff"/>
<rect x="177" y="152" width="4" height="6" fill="#fff"/>
<rect x="178" y="160" width="2" height="4" fill="#fff"/>
<rect x="183" y="152" width="4" height="6" fill="#fff"/>
<rect x="184" y="160" width="2" height="4" fill="#fff"/>
<rect x="188" y="152" width="4" height="6" fill="#fff"/>
<rect x="189" y="160" width="2" height="4" fill="#fff"/>
<rect x="190" y="158" width="1" height="6" fill="#fff"/>
<rect x="194" y="152" width="4" height="6" fill="#fff"/>
<rect x="195" y="160" width="2" height="4" fill="#fff"/>
<rect x="200" y="152" width="4" height="6" fill="#fff"/>
<rect x="201" y="160" width="2" height="4" fill="#fff"/>
<rect x="206" y="152" width="4" height="6" fill="#fff"/>
<rect x="207" y="160" width="2" height="4" fill="#fff"/>
<rect x="212" y="152" width="4" height="6" fill="#fff"/>
<rect x="213" y="160" width="2" height="4" fill="#fff"/>
<rect x="218" y="152" width="4" height="6" fill="#fff"/>
<rect x="219" y="160" width="2" height="4" fill="#fff"/>
<rect x="224" y="152" width="4" height="6" fill="#fff"/>
<rect x="225" y="160" width="2" height="4" fill="#fff"/>
<rect x="230" y="152" width="4" height="6" fill="#fff"/>
<rect x="231" y="160" width="2" height="4" fill="#fff"/>
<rect x="232" y="158" width="1" height="6" fill="#fff"/>
<rect x="236" y="152" width="4" height="6" fill="#fff"/>
<rect x="237" y="160" width="2" height="4" fill="#fff"/>
<rect x="242" y="152" width="4" height="6" fill="#fff"/>
<rect x="243" y="160" width="2" height="4" fill="#fff"/>
<rect x="247" y="152" width="4" height="6" fill="#fff"/>
<rect x="248" y="160" width="2" height="4" fill="#fff"/>
<rect x="253" y="152" width="4" height="6" fill="#fff"/>
<rect x="254" y="160" width="2" height="4" fill="#fff"/>
<rect x="255" y="158" width="1" height="6" fill="#fff"/>
<rect x="259" y="152" width="4" height="6" fill="#fff"/>
<rect x="260" y="160" width="2" height="4" fill="#fff"/>
<rect x="265" y="152" width="4" height="6" fill="#fff"/>
<rect x="266" y="160" width="2" height="4" fill="#fff"/>
<rect x="271" y="152" width="4" height="6" fill="#fff"/>
<rect x="272" y="160" width="2" height="4" fill="#fff"/>
<rect x="103" y="174" width="175" height="15" fill="#000"/>
<rect x="106" y="174" width="1" height="1" fill="#fff"/>
<rect x="109" y="174" width="1" height="1" fill="#fff"/>
<rect x="112" y="174" width="1" height="1" fill="#fff"/>
<rect x="115" y="174" width="1" height="1" fill="#fff"/>
<rect x="118" y="174" width="1" height="1" fill="#fff"/>
<rect x="121" y="174" width="1" height="1" fill="#fff"/>
<rect x="124" y="174" width="1" height="1" fill="#fff"/>
<rect x="127" y="174" width="1" height="1" fill="#fff"/>
<rect x="130" y="174" width="1" height="1" fill="#fff"/>
<rect x="133" y="174" width="1" height="1" fill="#fff"/>
<rect x="136" y="174" width="1" height="1" fill="#fff"/>
<rect x="139" y="174" width="1" height="1" fill="#fff"/>
<rect x="142" y="174" width="1" height="1" fill="#fff"/>
<rect x="145" y="174" width="1" height="1" fill="#fff"/>
<rect x="148" y="174" width="1" height="1" fill="#fff"/>
<rect x="151" y="174" width="1" height="1" fill="#fff"/>
<rect x="154" y="174" width="1" height="1" fill="#fff"/>
<rect x="157" y="174" width="1" height="1" fill="#fff"/>
<rect x="160" y="174" width="1" height="1" fill="#fff"/>
<rect x="163" y="174" width="1" height="1" fill="#fff"/>
<rect x="166" y="174" width="1" height="1" fill="#fff"/>
<rect x="169" y="174" width="1" height="1" fill="#fff"/>
<rect x="172" y="174" width="1" height="1" fill="#fff"/>
<rect x="175" y="174" width="1" height="1" fill="#fff"/>
<rect x="178" y="174" width="1" height="1" fill="#fff"/>
<rect x="181" y="174" width="1" height="1" fill="#fff"/>
<rect x="184" y="174" width="1" height="1" fill="#fff"/>
<rect x="187" y="174" width="1" height="1" fill="#fff"/>
<rect x="190" y="174" width="1" height="1" fill="#fff"/>
<rect x="193" y="174" width="1" height="1" fill="#fff"/>
<rect x="196" y="174" width="1" height="1" fill="#fff"/>
<rect x="199" y="174" width="1" height="1" fill="#fff"/>
<rect x="202" y="174" width="1" height="1" fill="#fff"/>
<rect x="205" y="174" width="1" height="1" fill="#fff"/>
<rect x="208" y="174" width="1" height="1" fill="#fff"/>
<rect x="211" y="174" width="1" height="1" fill="#fff"/>
<rect x="214" y="174" width="1" height="1" fill="#fff"/>
<rect x="217" y="174" width="1" height="1" fill="#fff"/>
<rect x="220" y="174" width="1" height="1" fill="#fff"/>
<rect x="223" y="174" width="1" height="1" fill="#fff"/>
<rect x="226" y="174" width="1" height="1" fill="#fff"/>
<rect x="229" y="174" width="1" height="1" fill="#fff"/>
<rect x="232" y="174" width="1" height="1" fill="#fff"/>
<rect x="235" y="174" width="1" height="1" fill="#fff"/>
<rect x="238" y="174" width="1" height="1" fill="#fff"/>
<rect x="241" y="174" width="1" height="1" fill="#fff"/>
<rect x="244" y="174" width="1" height="1" fill="#fff"/>
<rect x="247" y="174" width="1" height="1" fill="#fff"/>
<rect x="250" y="174" width="1" height="1" fill="#fff"/>
<rect x="253" y="174" width="1" height="1" fill="#fff"/>
<rect x="256" y="174" width="1" height="1" fill="#fff"/>
<rect x="259" y="174" width="1" height="1" fill="#fff"/>
<rect x="262" y="174" width="1" height="1" fill="#fff"/>
<rect x="265" y="174" width="1" height="1" fill="#fff"/>
<rect x="268" y="174" width="1" height="1" fill="#fff"/>
<rect x="271" y="174" width="1" height="1" fill="#fff"/>
<rect x="274" y="174" width="1" height="1" fill="#fff"/>
<rect x="106" y="176" width="4" height="6" fill="#fff"/>
<rect x="107" y="183" width="2" height="5" fill="#fff"/>
<rect x="112" y="176" width="4" height="6" fill="#fff"/>
<rect x="113" y="183" width="2" height="5" fill="#fff"/>
<rect x="118" y="176" width="4" height="6" fill="#fff"/>
<rect x="119" y="183" width="2" height="5" fill="#fff"/>
<rect x="120" y="182" width="1" height="6" fill="#fff"/>
<rect x="124" y="176" width="4" height="6" fill="#fff"/>
<rect x="125" y="183" width="2" height="5" fill="#fff"/>
<rect x="130" y="176" width="4" height="6" fill="#fff"/>
<rect x="131" y="183" width="2" height="5" fill="#fff"/>
<rect x="135" y="176" width="4" height="6" fill="#fff"/>
<rect x="136" y="183" width="2" height="5" fill="#fff"/>
<rect x="141" y="176" width="4" height="6" fill="#fff"/>
<rect x="142" y="183" width="2" height="5" fill="#fff"/>
<rect x="147" y="176" width="4" height="6" fill="#fff"/>
<rect x="148" y="183" width="2" height="5" fill="#fff"/>
<rect x="153" y="176" width="4" height="6" fill="#fff"/>
<rect x="154" y="183" width="2" height="5" fill="#fff"/>
<rect x="159" y="176" width="4" height="6" fill="#fff"/>
<rect x="160" y="183" width="2" height="5" fill="#fff"/>
<rect x="161" y="182" width="1" height="6" fill="#fff"/>
<rect x="165" y="176" width="4" height="6" fill="#fff"/>
<rect x="166" y="183" width="2" height="5" fill="#fff"/>
<rect x="171" y="176" width="4" height="6" fill="#fff"/>
<rect x="172" y="183" width="2" height="5" fill="#fff"/>
<rect x="177" y="176" width="4" height="6" fill="#fff"/>
<rect x="178" y="183" width="2" height="5" fill="#fff"/>
<rect x="183" y="176" width="4" height="6" fill="#fff"/>
<rect x="184" y="183" width="2" height="5" fill="#fff"/>
<rect x="188" y="176" width="4" height="6" fill="#fff"/>
<rect x="189" y="183" width="2" height="5" fill="#fff"/>
<rect x="190" y="182" width="1" height="6" fill="#fff"/>
<rect x="194" y="176" width="4" height="6" fill="#fff"/>
<rect x="195" y="183" width="2" height="5" fill="#fff"/>
<rect x="200" y="176" width="4" height="6" fill="#fff"/>
<rect x="201" y="183" width="2" height="5" fill="#fff"/>
<rect x="206" y="176" width="4" height="6" fill="#fff"/>
<rect x="207" y="183" width="2" height="5" fill="#fff"/>
<rect x="212" y="176" width="4" height="6" fill="#fff"/>
<rect x="213" y="183" width="2" height="5" fill="#fff"/>
<rect x="218" y="176" width="4" height="6" fill="#fff"/>
<rect x="219" y="183" width="2" height="5" fill="#fff"/>
<rect x="224" y="176" width="4" height="6" fill="#fff"/>
<rect x="225" y="183" width="2" height="5" fill="#fff"/>
<rect x="230" y="176" width="4" height="6" fill="#fff"/>
<rect x="231" y="183" width="2" height="5" fill="#fff"/>
<rect x="232" y="182" width="1" height="6" fill="#fff"/>
<rect x="236" y="176" width="4" height="6" fill="#fff"/>
<rect x="237" y="183" width="2" height="5" fill="#fff"/>
<rect x="242" y="176" width="4" height="6" fill="#fff"/>
<rect x="243" y="183" width="2" height="5" fill="#fff"/>
<rect x="247" y="176" width="4" height="6" fill="#fff"/>
<rect x="248" y="183" width="2" height="5" fill="#fff"/>
<rect x="253" y="176" width="4" height="6" fill="#fff"/>
<rect x="254" y="183" width="2" height="5" fill="#fff"/>
<rect x="255" y="182" width="1" height="6" fill="#fff"/>
<rect x="259" y="176" width="4" height="6" fill="#fff"/>
<rect x="260" y="183" width="2" height="5" fill="#fff"/>
<rect x="265" y="176" width="4" height="6" fill="#fff"/>
<rect x="266" y="183" width="2" height="5" fill="#fff"/>
<rect x="271" y="176" width="4" height="6" fill="#fff"/>
<rect x="272" y="183" width="2" height="5" fill="#fff"/>
<rect x="103.5" y="166.5" width="29" height="7" fill="#fff" stroke="#000" stroke-width="1"/>
<rect x="138.5" y="166.5" width="29" height="7" fill="#fff" stroke="#000" stroke-width="1"/>
<rect x="176.5" y="166.5" width="30" height="7" fill="#fff" stroke="#000" stroke-width="1"/>
<rect x="213.5" y="166.5" width="29" height="7" fill="#fff" stroke="#000" stroke-width="1"/>
<rect x="249.5" y="166.5" width="30" height="7" fill="#fff" stroke="#000" stroke-width="1"/>
<rect x="85" y="149" width="4" height="40" fill="#000"/>
<rect x="86.5" y="166.5" width="13" height="7" fill="#fff" stroke="#000" stroke-width="1"/>
<rect x="89" y="151" width="10" height="1" fill="#000"/>
<rect x="98" y="151" width="1" height="10" fill="#000"/>
<rect x="95" y="160" width="4" height="1" fill="#000"/>
<rect x="95" y="158" width="1" height="8" fill="#000"/>
<rect x="91" y="158" width="5" height="1" fill="#000"/>
<rect x="91" y="158" width="1" height="4" fill="#000"/>
<rect x="89" y="161" width="3" height="1" fill="#000"/>
<rect x="89" y="165" width="7" height="1" fill="#000"/>
<rect x="89" y="175" width="10" height="1" fill="#000"/>
<rect x="98" y="175" width="1" height="10" fill="#000"/>
<rect x="95" y="184" width="4" height="1" fill="#000"/>
<rect x="95" y="182" width="1" height="8" fill="#000"/>
<rect x="91" y="182" width="5" height="1" fill="#000"/>
<rect x="91" y="182" width="1" height="4" fill="#000"/>
<rect x="89" y="185" width="3" height="1" fill="#000"/>
<rect x="89" y="189" width="7" height="1" fill="#000"/>
<rect x="292" y="149" width="4" height="40" fill="#000"/>
<rect x="294" y="152" width="1" height="13" fill="#fff"/>
<rect x="282.5" y="166.5" width="14" height="7" fill="#fff" stroke="#000" stroke-width="1"/>
<rect x="282" y="151" width="10" height="1" fill="#000"/>
<rect x="282" y="151" width="1" height="10" fill="#000"/>
<rect x="282" y="160" width="4" height="1" fill="#000"/>
<rect x="285" y="158" width="1" height="8" fill="#000"/>
<rect x="285" y="158" width="5" height="1" fill="#000"/>
<rect x="289" y="158" width="1" height="4" fill="#000"/>
<rect x="289" y="161" width="3" height="1" fill="#000"/>
<rect x="285" y="165" width="7" height="1" fill="#000"/>
<rect x="282" y="175" width="10" height="1" fill="#000"/>
<rect x="282" y="175" width="1" height="10" fill="#000"/>
<rect x="282" y="184" width="4" height="1" fill="#000"/>
<rect x="285" y="182" width="1" height="8" fill="#000"/>
<rect x="285" y="182" width="5" height="1" fill="#000"/>
<rect x="289" y="182" width="1" height="4" fill="#000"/>
<rect x="289" y="185" width="3" height="1" fill="#000"/>
<rect x="285" y="189" width="7" height="1" fill="#000"/>
<rect x="77" y="151" width="9" height="1" fill="#000"/>
<rect x="77" y="158" width="9" height="1" fill="#000"/>
<rect x="77" y="176" width="9" height="1" fill="#000"/>
<rect x="77" y="183" width="9" height="1" fill="#000"/>
<rect x="295" y="151" width="8" height="1" fill="#000"/>
<rect x="295" y="158" width="8" height="1" fill="#000"/>
<rect x="295" y="176" width="8" height="1" fill="#000"/>
<rect x="295" y="183" width="8" height="1" fill="#000"/>
<rect x="78" y="189" width="224" height="1" fill="#fff"/>
<rect x="78" y="190" width="224" height="1" fill="#000"/>
<rect x="78" y="191" width="224" height="1" fill="#fff"/>
<rect x="103" y="192" width="175" height="1" fill="#000"/>
<rect x="107" y="192" width="2" height="1" fill="#fff"/>
<rect x="113" y="192" width="2" height="1" fill="#fff"/>
<rect x="119" y="192" width="2" height="1" fill="#fff"/>
<rect x="125" y="192" width="2" height="1" fill="#fff"/>
<rect x="131" y="192" width="2" height="1" fill="#fff"/>
<rect x="136" y="192" width="2" height="1" fill="#fff"/>
<rect x="142" y="192" width="2" height="1" fill="#fff"/>
<rect x="148" y="192" width="2" height="1" fill="#fff"/>
<rect x="154" y="192" width="2" height="1" fill="#fff"/>
<rect x="160" y="192" width="2" height="1" fill="#fff"/>
<rect x="166" y="192" width="2" height="1" fill="#fff"/>
<rect x="172" y="192" width="2" height="1" fill="#fff"/>
<rect x="178" y="192" width="2" height="1" fill="#fff"/>
<rect x="184" y="192" width="2" height="1" fill="#fff"/>
<rect x="189" y="192" width="2" height="1" fill="#fff"/>
<rect x="195" y="192" width="2" height="1" fill="#fff"/>
<rect x="201" y="192" width="2" height="1" fill="#fff"/>
<rect x="207" y="192" width="2" height="1" fill="#fff"/>
<rect x="213" y="192" width="2" height="1" fill="#fff"/>
<rect x="219" y="192" width="2" height="1" fill="#fff"/>
<rect x="225" y="192" width="2" height="1" fill="#fff"/>
<rect x="231" y="192" width="2" height="1" fill="#fff"/>
<rect x="237" y="192" width="2" height="1" fill="#fff"/>
<rect x="243" y="192" width="2" height="1" fill="#fff"/>
<rect x="248" y="192" width="2" height="1" fill="#fff"/>
<rect x="254" y="192" width="2" height="1" fill="#fff"/>
<rect x="260" y="192" width="2" height="1" fill="#fff"/>
<rect x="266" y="192" width="2" height="1" fill="#fff"/>
<rect x="272" y="192" width="2" height="1" fill="#fff"/>
<rect x="103" y="193" width="175" height="14" fill="#000"/>
<rect x="106" y="194" width="4" height="6" fill="#fff"/>
<rect x="107" y="202" width="2" height="4" fill="#fff"/>
<rect x="112" y="194" width="4" height="6" fill="#fff"/>
<rect x="113" y="202" width="2" height="4" fill="#fff"/>
<rect x="118" y="194" width="4" height="6" fill="#fff"/>
<rect x="119" y="202" width="2" height="4" fill="#fff"/>
<rect x="120" y="200" width="1" height="6" fill="#fff"/>
<rect x="124" y="194" width="4" height="6" fill="#fff"/>
<rect x="125" y="202" width="2" height="4" fill="#fff"/>
<rect x="130" y="194" width="4" height="6" fill="#fff"/>
<rect x="131" y="202" width="2" height="4" fill="#fff"/>
<rect x="135" y="194" width="4" height="6" fill="#fff"/>
<rect x="136" y="202" width="2" height="4" fill="#fff"/>
<rect x="141" y="194" width="4" height="6" fill="#fff"/>
<rect x="142" y="202" width="2" height="4" fill="#fff"/>
<rect x="147" y="194" width="4" height="6" fill="#fff"/>
<rect x="148" y="202" width="2" height="4" fill="#fff"/>
<rect x="153" y="194" width="4" height="6" fill="#fff"/>
<rect x="154" y="202" width="2" height="4" fill="#fff"/>
<rect x="159" y="194" width="4" height="6" fill="#fff"/>
<rect x="160" y="202" width="2" height="4" fill="#fff"/>
<rect x="161" y="200" width="1" height="6" fill="#fff"/>
<rect x="165" y="194" width="4" height="6" fill="#fff"/>
<rect x="166" y="202" width="2" height="4" fill="#fff"/>
<rect x="171" y="194" width="4" height="6" fill="#fff"/>
<rect x="172" y="202" width="2" height="4" fill="#fff"/>
<rect x="177" y="194" width="4" height="6" fill="#fff"/>
<rect x="178" y="202" width="2" height="4" fill="#fff"/>
<rect x="183" y="194" width="4" height="6" fill="#fff"/>
<rect x="184" y="202" width="2" height="4" fill="#fff"/>
<rect x="188" y="194" width="4" height="6" fill="#fff"/>
<rect x="189" y="202" width="2" height="4" fill="#fff"/>
<rect x="190" y="200" width="1" height="6" fill="#fff"/>
<rect x="194" y="194" width="4" height="6" fill="#fff"/>
<rect x="195" y="202" width="2" height="4" fill="#fff"/>
<rect x="200" y="194" width="4" height="6" fill="#fff"/>
<rect x="201" y="202" width="2" height="4" fill="#fff"/>
<rect x="206" y="194" width="4" height="6" fill="#fff"/>
<rect x="207" y="202" width="2" height="4" fill="#fff"/>
<rect x="212" y="194" width="4" height="6" fill="#fff"/>
<rect x="213" y="202" width="2" height="4" fill="#fff"/>
<rect x="218" y="194" width="4" height="6" fill="#fff"/>
<rect x="219" y="202" width="2" height="4" fill="#fff"/>
<rect x="224" y="194" width="4" height="6" fill="#fff"/>
<rect x="225" y="202" width="2" height="4" fill="#fff"/>
<rect x="230" y="194" width="4" height="6" fill="#fff"/>
<rect x="231" y="202" width="2" height="4" fill="#fff"/>
<rect x="232" y="200" width="1" height="6" fill="#fff"/>
<rect x="236" y="194" width="4" height="6" fill="#fff"/>
<rect x="237" y="202" width="2" height="4" fill="#fff"/>
<rect x="242" y="194" width="4" height="6" fill="#fff"/>
<rect x="243" y="202" width="2" height="4" fill="#fff"/>
<rect x="247" y="194" width="4" height="6" fill="#fff"/>
<rect x="248" y="202" width="2" height="4" fill="#fff"/>
<rect x="253" y="194" width="4" height="6" fill="#fff"/>
<rect x="254" y="202" width="2" height="4" fill="#fff"/>
<rect x="255" y="200" width="1" height="6" fill="#fff"/>
<rect x="259" y="194" width="4" height="6" fill="#fff"/>
<rect x="260" y="202" width="2" height="4" fill="#fff"/>
<rect x="265" y="194" width="4" height="6" fill="#fff"/>
<rect x="266" y="202" width="2" height="4" fill="#fff"/>
<rect x="271" y="194" width="4" height="6" fill="#fff"/>
<rect x="272" y="202" width="2" height="4" fill="#fff"/>
<rect x="103" y="216" width="175" height="15" fill="#000"/>
<rect x="106" y="216" width="1" height="1" fill="#fff"/>
<rect x="109" y="216" width="1" height="1" fill="#fff"/>
<rect x="112" y="216" width="1" height="1" fill="#fff"/>
<rect x="115" y="216" width="1" height="1" fill="#fff"/>
<rect x="118" y="216" width="1" height="1" fill="#fff"/>
<rect x="121" y="216" width="1" height="1" fill="#fff"/>
<rect x="124" y="216" width="1" height="1" fill="#fff"/>
<rect x="127" y="216" width="1" height="1" fill="#fff"/>
<rect x="130" y="216" width="1" height="1" fill="#fff"/>
<rect x="133" y="216" width="1" height="1" fill="#fff"/>
<rect x="136" y="216" width="1" height="1" fill="#fff"/>
<rect x="139" y="216" width="1" height="1" fill="#fff"/>
<rect x="142" y="216" width="1" height="1" fill="#fff"/>
<rect x="145" y="216" width="1" height="1" fill="#fff"/>
<rect x="148" y="216" width="1" height="1" fill="#fff"/>
<rect x="151" y="216" width="1" height="1" fill="#fff"/>
<rect x="154" y="216" width="1" height="1" fill="#fff"/>
<rect x="157" y="216" width="1" height="1" fill="#fff"/>
<rect x="160" y="216" width="1" height="1" fill="#fff"/>
<rect x="163" y="216" width="1" height="1" fill="#fff"/>
<rect x="166" y="216" width="1" height="1" fill="#fff"/>
<rect x="169" y="216" width="1" height="1" fill="#fff"/>
<rect x="172" y="216" width="1" height="1" fill="#fff"/>
<rect x="175" y="216" width="1" height="1" fill="#fff"/>
<rect x="178" y="216" width="1" height="1" fill="#fff"/>
<rect x="181" y="216" width="1" height="1" fill="#fff"/>
<rect x="184" y="216" width="1" height="1" fill="#fff"/>
<rect x="187" y="216" width="1" height="1" fill="#fff"/>
<rect x="190" y="216" width="1" height="1" fill="#fff"/>
<rect x="193" y="216" width="1" height="1" fill="#fff"/>
<rect x="196" y="216" width="1" height="1" fill="#fff"/>
<rect x="199" y="216" width="1" height="1" fill="#fff"/>
<rect x="202" y="216" width="1" height="1" fill="#fff"/>
<rect x="205" y="216" width="1" height="1" fill="#fff"/>
<rect x="208" y="216" width="1" height="1" fill="#fff"/>
<rect x="211" y="216" width="1" height="1" fill="#fff"/>
<rect x="214" y="216" width="1" height="1" fill="#fff"/>
<rect x="217" y="216" width="1" height="1" fill="#fff"/>
<rect x="220" y="216" width="1" height="1" fill="#fff"/>
<rect x="223" y="216" width="1" height="1" fill="#fff"/>
<rect x="226" y="216" width="1" height="1" fill="#fff"/>
<rect x="229" y="216" width="1" height="1" fill="#fff"/>
<rect x="232" y="216" width="1" height="1" fill="#fff"/>
<rect x="235" y="216" width="1" height="1" fill="#fff"/>
<rect x="238" y="216" width="1" height="1" fill="#fff"/>
<rect x="241" y="216" width="1" height="1" fill="#fff"/>
<rect x="244" y="216" width="1" height="1" fill="#fff"/>
<rect x="247" y="216" width="1" height="1" fill="#fff"/>
<rect x="250" y="216" width="1" height="1" fill="#fff"/>
<rect x="253" y="216" width="1" height="1" fill="#fff"/>
<rect x="256" y="216" width="1" height="1" fill="#fff"/>
<rect x="259" y="216" width="1" height="1" fill="#fff"/>
<rect x="262" y="216" width="1" height="1" fill="#fff"/>
<rect x="265" y="216" width="1" height="1" fill="#fff"/>
<rect x="268" y="216" width="1" height="1" fill="#fff"/>
<rect x="271" y="216" width="1" height="1" fill="#fff"/>
<rect x="274" y="216" width="1" height="1" fill="#fff"/>
<rect x="106" y="218" width="4" height="6" fill="#fff"/>
<rect x="107" y="225" width="2" height="5" fill="#fff"/>
<rect x="112" y="218" width="4" height="6" fill="#fff"/>
<rect x="113" y="225" width="2" height="5" fill="#fff"/>
<rect x="118" y="218" width="4" height="6" fill="#fff"/>
<rect x="119" y="225" width="2" height="5" fill="#fff"/>
<rect x="120" y="224" width="1" height="6" fill="#fff"/>
<rect x="124" y="218" width="4" height="6" fill="#fff"/>
<rect x="125" y="225" width="2" height="5" fill="#fff"/>
<rect x="130" y="218" width="4" height="6" fill="#fff"/>
<rect x="131" y="225" width="2" height="5" fill="#fff"/>
<rect x="135" y="218" width="4" height="6" fill="#fff"/>
<rect x="136" y="225" width="2" height="5" fill="#fff"/>
<rect x="141" y="218" width="4" height="6" fill="#fff"/>
<rect x="142" y="225" width="2" height="5" fill="#fff"/>
<rect x="147" y="218" width="4" height="6" fill="#fff"/>
<rect x="148" y="225" width="2" height="5" fill="#fff"/>
<rect x="153" y="218" width="4" height="6" fill="#fff"/>
<rect x="154" y="225" width="2" height="5" fill="#fff"/>
<rect x="159" y="218" width="4" height="6" fill="#fff"/>
<rect x="160" y="225" width="2" height="5" fill="#fff"/>
<rect x="161" y="224" width="1" height="6" fill="#fff"/>
<rect x="165" y="218" width="4" height="6" fill="#fff"/>
<rect x="166" y="225" width="2" height="5" fill="#fff"/>
<rect x="171" y="218" width="4" height="6" fill="#fff"/>
<rect x="172" y="225" width="2" height="5" fill="#fff"/>
<rect x="177" y="218" width="4" height="6" fill="#fff"/>
<rect x="178" y="225" width="2" height="5" fill="#fff"/>
<rect x="183" y="218" width="4" height="6" fill="#fff"/>
<rect x="184" y="225" width="2" height="5" fill="#fff"/>
<rect x="188" y="218" width="4" height="6" fill="#fff"/>
<rect x="189" y="225" width="2" height="5" fill="#fff"/>
<rect x="190" y="224" width="1" height="6" fill="#fff"/>
<rect x="194" y="218" width="4" height="6" fill="#fff"/>
<rect x="195" y="225" width="2" height="5" fill="#fff"/>
<rect x="200" y="218" width="4" height="6" fill="#fff"/>
<rect x="201" y="225" width="2" height="5" fill="#fff"/>
<rect x="206" y="218" width="4" height="6" fill="#fff"/>
<rect x="207" y="225" width="2" height="5" fill="#fff"/>
<rect x="212" y="218" width="4" height="6" fill="#fff"/>
<rect x="213" y="225" width="2" height="5" fill="#fff"/>
<rect x="218" y="218" width="4" height="6" fill="#fff"/>
<rect x="219" y="225" width="2" height="5" fill="#fff"/>
<rect x="224" y="218" width="4" height="6" fill="#fff"/>
<rect x="225" y="225" width="2" height="5" fill="#fff"/>
<rect x="230" y="218" width="4" height="6" fill="#fff"/>
<rect x="231" y="225" width="2" height="5" fill="#fff"/>
<rect x="232" y="224" width="1" height="6" fill="#fff"/>
<rect x="236" y="218" width="4" height="6" fill="#fff"/>
<rect x="237" y="225" width="2" height="5" fill="#fff"/>
<rect x="242" y="218" width="4" height="6" fill="#fff"/>
<rect x="243" y="225" width="2" height="5" fill="#fff"/>
<rect x="247" y="218" width="4" height="6" fill="#fff"/>
<rect x="248" y="225" width="2" height="5" fill="#fff"/>
<rect x="253" y="218" width="4" height="6" fill="#fff"/>
<rect x="254" y="225" width="2" height="5" fill="#fff"/>
<rect x="255" y="224" width="1" height="6" fill="#fff"/>
<rect x="259" y="218" width="4" height="6" fill="#fff"/>
<rect x="260" y="225" width="2" height="5" fill="#fff"/>
<rect x="265" y="218" width="4" height="6" fill="#fff"/>
<rect x="266" y="225" width="2" height="5" fill="#fff"/>
<rect x="271" y="218" width="4" height="6" fill="#fff"/>
<rect x="272" y="225" width="2" height="5" fill="#fff"/>
<rect x="103.5" y="208.5" width="29" height="7" fill="#fff" stroke="#000" stroke-width="1"/>
<rect x="138.5" y="208.5" width="29" height="7" fill="#fff" stroke="#000" stroke-width="1"/>
<rect x="176.5" y="208.5" width="30" height="7" fill="#fff" stroke="#000" stroke-width="1"/>
<rect x="213.5" y="208.5" width="29" height="7" fill="#fff" stroke="#000" stroke-width="1"/>
<rect x="249.5" y="208.5" width="30" height="7" fill="#fff" stroke="#000" stroke-width="1"/>
<rect x="85" y="191" width="4" height="40" fill="#000"/>
<rect x="86.5" y="208.5" width="13" height="7" fill="#fff" stroke="#000" stroke-width="1"/>
<rect x="89" y="193" width="10" height="1" fill="#000"/>
<rect x="98" y="193" width="1" height="10" fill="#000"/>
<rect x="95" y="202" width="4" height="1" fill="#000"/>
<rect x="95" y="200" width="1" height="8" fill="#000"/>
<rect x="91" y="200" width="5" height="1" fill="#000"/>
<rect x="91" y="200" width="1" height="4" fill="#000"/>
<rect x="89" y="203" width="3" height="1" fill="#000"/>
<rect x="89" y="207" width="7" height="1" fill="#000"/>
<rect x="89" y="217" width="10" height="1" fill="#000"/>
<rect x="98" y="217" width="1" height="10" fill="#000"/>
<rect x="95" y="226" width="4" height="1" fill="#000"/>
<rect x="95" y="224" width="1" height="8" fill="#000"/>
<rect x="91" y="224" width="5" height="1" fill="#000"/>
<rect x="91" y="224" width="1" height="4" fill="#000"/>
<rect x="89" y="227" width="3" height="1" fill="#000"/>
<rect x="89" y="231" width="7" height="1" fill="#000"/>
<rect x="292" y="191" width="4" height="40" fill="#000"/>
<rect x="294" y="194" width="1" height="13" fill="#fff"/>
<rect x="282.5" y="208.5" width="14" height="7" fill="#fff" stroke="#000" stroke-width="1"/>
<rect x="282" y="193" width="10" height="1" fill="#000"/>
<rect x="282" y="193" width="1" height="10" fill="#000"/>
<rect x="282" y="202" width="4" height="1" fill="#000"/>
<rect x="285" y="200" width="1" height="8" fill="#000"/>
<rect x="285" y="200" width="5" height="1" fill="#000"/>
<rect x="289" y="200" width="1" height="4" fill="#000"/>
<rect x="289" y="203" width="3" height="1" fill="#000"/>
<rect x="285" y="207" width="7" height="1" fill="#000"/>
<rect x="282" y="217" width="10" height="1" fill="#000"/>
<rect x="282" y="217" width="1" height="10" fill="#000"/>
<rect x="282" y="226" width="4" height="1" fill="#000"/>
<rect x="285" y="224" width="1" height="8" fill="#000"/>
<rect x="285" y="224" width="5" height="1" fill="#000"/>
<rect x="289" y="224" width="1" height="4" fill="#000"/>
<rect x="289" y="227" width="3" height="1" fill="#000"/>
<rect x="285" y="231" width="7" height="1" fill="#000"/>
<rect x="77" y="193" width="9" height="1" fill="#000"/>
<rect x="77" y="200" width="9" height="1" fill="#000"/>
<rect x="77" y="218" width="9" height="1" fill="#000"/>
<rect x="77" y="225" width="9" height="1" fill="#000"/>
<rect x="295" y="193" width="8" height="1" fill="#000"/>
<rect x="295" y="200" width="8" height="1" fill="#000"/>
<rect x="295" y="218" width="8" height="1" fill="#000"/>
<rect x="295" y="225" width="8" height="1" fill="#000"/>
<rect x="85" y="65" width="1" height="168" fill="#000"/>
<rect x="295" y="65" width="1" height="168" fill="#000"/>
<rect x="4.0" y="75.0" width="33" height="17" fill="#fff" stroke="#000" stroke-width="2" rx="3"/>
<text transform="translate(9,88) scale(0.72,1)" x="0" y="0" font-size="14" fill="#000" textLength="29.17" lengthAdjust="spacing" filter="url(#crisp)" >JP4</text>
<path d="M35.00 88.50 L39.30 86.00 L47.00 85.70 L47.00 81.30 L39.30 81.00 L35.00 78.50 Z" fill="#000" stroke="none" stroke-width="1" />
<path d="M33.00 86.00 L37.65 84.10 L42.60 84.00 L42.60 83.00 L37.65 82.90 L33.00 81.00 Z" fill="#fff" stroke="none" stroke-width="1" />
<line x1="47" y1="83.5" x2="53" y2="83.5" stroke="#000" stroke-width="2"/>
<rect x="53" y="77" width="7" height="14" fill="#000"/>
<rect x="55" y="78" width="4" height="1" fill="#fff"/>
<rect x="55" y="83" width="4" height="2" fill="#fff"/>
<rect x="55" y="88" width="4" height="1" fill="#fff"/>
<rect x="4.0" y="102.0" width="34" height="15" fill="#fff" stroke="#000" stroke-width="2" rx="3"/>
<text transform="translate(8,114) scale(0.72,1)" x="0" y="0" font-size="14" fill="#000" textLength="36.11" lengthAdjust="spacing" filter="url(#crisp)" >SW2</text>
<path d="M36.00 114.00 L40.30 111.50 L48.00 111.20 L48.00 106.80 L40.30 106.50 L36.00 104.00 Z" fill="#000" stroke="none" stroke-width="1" />
<path d="M34.00 111.50 L38.65 109.60 L43.60 109.50 L43.60 108.50 L38.65 108.40 L34.00 106.50 Z" fill="#fff" stroke="none" stroke-width="1" />
<line x1="48" y1="109" x2="53" y2="109" stroke="#000" stroke-width="2"/>
<rect x="53" y="103" width="13" height="13" fill="#000"/>
<rect x="54" y="109" width="5" height="1" fill="#fff"/>
<rect x="60" y="109" width="4" height="1" fill="#fff"/>
<rect x="54" y="114" width="5" height="1" fill="#fff"/>
<rect x="60" y="114" width="5" height="1" fill="#fff"/>
<rect x="64" y="104" width="1" height="11" fill="#fff"/>
<rect x="66" y="108" width="7" height="2" fill="#000"/>
<rect x="4.0" y="146.0" width="34" height="17" fill="#fff" stroke="#000" stroke-width="2" rx="3"/>
<text transform="translate(9,158) scale(0.72,1)" x="0" y="0" font-size="14" fill="#000" textLength="26.39" lengthAdjust="spacing" filter="url(#crisp)" >J24</text>
<path d="M36.00 159.00 L40.00 156.50 L47.00 156.20 L47.00 151.80 L40.00 151.50 L36.00 149.00 Z" fill="#000" stroke="none" stroke-width="1" />
<path d="M34.00 156.50 L38.50 154.60 L43.00 154.50 L43.00 153.50 L38.50 153.40 L34.00 151.50 Z" fill="#fff" stroke="none" stroke-width="1" />
<line x1="47" y1="154" x2="53" y2="154" stroke="#000" stroke-width="3"/>
<rect x="53" y="144" width="6" height="26" fill="#000"/>
<rect x="59" y="144" width="6" height="31" fill="#000"/>
<rect x="55" y="146" width="3" height="3" fill="#fff"/>
<rect x="54" y="151" width="4" height="1" fill="#fff"/>
<rect x="54" y="157" width="4" height="1" fill="#fff"/>
<rect x="54" y="163" width="4" height="1" fill="#fff"/>
<rect x="61" y="146" width="3" height="3" fill="#fff"/>
<rect x="60" y="151" width="4" height="1" fill="#fff"/>
<rect x="60" y="157" width="4" height="1" fill="#fff"/>
<rect x="60" y="163" width="4" height="1" fill="#fff"/>
<rect x="54" y="168" width="4" height="1" fill="#fff"/>
<rect x="60" y="168" width="4" height="1" fill="#fff"/>
<rect x="60" y="172" width="4" height="1" fill="#fff"/>
<rect x="58" y="145" width="1" height="24" fill="#fff"/>
<rect x="65" y="160" width="5" height="2" fill="#000"/>
<rect x="81.75" y="101.75" width="32.5" height="15.5" fill="#fff" stroke="#000" stroke-width="1.5" rx="2"/>
<text transform="translate(85,113) scale(0.72,1)" x="0" y="0" font-size="14" fill="#000" textLength="37.50" lengthAdjust="spacing" filter="url(#crisp)" >SW1</text>
<path d="M83.00 105.00 L78.40 107.70 L70.00 108.00 L70.00 110.00 L78.40 110.30 L83.00 113.00 Z" fill="#000" stroke="none" stroke-width="1" />
<path d="M85.00 106.50 L80.20 108.40 L74.80 108.50 L74.80 109.50 L80.20 109.60 L85.00 111.50 Z" fill="#fff" stroke="none" stroke-width="1" />
<rect x="161.75" y="99.75" width="57.5" height="15.5" fill="#fff" stroke="#000" stroke-width="1.5" rx="3"/>
<text transform="translate(166,113) scale(0.72,1)" x="0" y="0" font-size="14" fill="#000" textLength="66.67" lengthAdjust="spacing" filter="url(#crisp)" >BANK 1</text>
<rect x="80.75" y="152.75" width="35.5" height="16.5" fill="#fff" stroke="#000" stroke-width="1.5" rx="3"/>
<text transform="translate(85,165) scale(0.72,1)" x="0" y="0" font-size="14" fill="#000" textLength="29.17" lengthAdjust="spacing" filter="url(#crisp)" >J23</text>
<path d="M82.00 156.50 L77.40 159.20 L69.00 159.50 L69.00 161.50 L77.40 161.80 L82.00 164.50 Z" fill="#000" stroke="none" stroke-width="1" />
<path d="M84.00 158.00 L79.20 159.90 L73.80 160.00 L73.80 161.00 L79.20 161.10 L84.00 163.00 Z" fill="#fff" stroke="none" stroke-width="1" />
<rect x="161.75" y="182.75" width="57.5" height="15.5" fill="#fff" stroke="#000" stroke-width="1.5" rx="3"/>
<text transform="translate(166,195) scale(0.72,1)" x="0" y="0" font-size="14" fill="#000" textLength="65.28" lengthAdjust="spacing" filter="url(#crisp)" >BANK 0</text>
<rect x="74" y="381" width="84" height="25" fill="#000"/>
<rect x="76" y="383" width="3" height="5" fill="#fff"/>
<rect x="76" y="398" width="3" height="5" fill="#fff"/>
<rect x="82" y="383" width="3" height="5" fill="#fff"/>
<rect x="82" y="398" width="3" height="5" fill="#fff"/>
<rect x="88" y="383" width="3" height="5" fill="#fff"/>
<rect x="88" y="398" width="3" height="5" fill="#fff"/>
<rect x="94" y="383" width="3" height="5" fill="#fff"/>
<rect x="94" y="398" width="3" height="5" fill="#fff"/>
<rect x="100" y="383" width="3" height="5" fill="#fff"/>
<rect x="100" y="398" width="3" height="5" fill="#fff"/>
<rect x="105" y="383" width="3" height="5" fill="#fff"/>
<rect x="105" y="398" width="3" height="5" fill="#fff"/>
<rect x="111" y="383" width="3" height="5" fill="#fff"/>
<rect x="111" y="398" width="3" height="5" fill="#fff"/>
<rect x="117" y="383" width="3" height="5" fill="#fff"/>
<rect x="117" y="398" width="3" height="5" fill="#fff"/>
<rect x="123" y="383" width="3" height="5" fill="#fff"/>
<rect x="123" y="398" width="3" height="5" fill="#fff"/>
<rect x="129" y="383" width="3" height="5" fill="#fff"/>
<rect x="129" y="398" width="3" height="5" fill="#fff"/>
<rect x="135" y="383" width="3" height="5" fill="#fff"/>
<rect x="135" y="398" width="3" height="5" fill="#fff"/>
<rect x="141" y="383" width="3" height="5" fill="#fff"/>
<rect x="141" y="398" width="3" height="5" fill="#fff"/>
<rect x="147" y="383" width="3" height="5" fill="#fff"/>
<rect x="147" y="398" width="3" height="5" fill="#fff"/>
<rect x="153" y="383" width="3" height="5" fill="#fff"/>
<rect x="153" y="398" width="3" height="5" fill="#fff"/>
<rect x="79" y="391" width="73" height="5" fill="#fff"/>
<path d="M158 390.5 L155.5 393.5 L158 396.5 Z" fill="#fff" stroke="none" stroke-width="1" />
<rect x="74" y="406" width="84" height="1" fill="#fff"/>
<rect x="74" y="407" width="84" height="25" fill="#000"/>
<rect x="76" y="409" width="3" height="5" fill="#fff"/>
<rect x="76" y="424" width="3" height="5" fill="#fff"/>
<rect x="82" y="409" width="3" height="5" fill="#fff"/>
<rect x="82" y="424" width="3" height="5" fill="#fff"/>
<rect x="88" y="409" width="3" height="5" fill="#fff"/>
<rect x="88" y="424" width="3" height="5" fill="#fff"/>
<rect x="94" y="409" width="3" height="5" fill="#fff"/>
<rect x="94" y="424" width="3" height="5" fill="#fff"/>
<rect x="100" y="409" width="3" height="5" fill="#fff"/>
<rect x="100" y="424" width="3" height="5" fill="#fff"/>
<rect x="105" y="409" width="3" height="5" fill="#fff"/>
<rect x="105" y="424" width="3" height="5" fill="#fff"/>
<rect x="111" y="409" width="3" height="5" fill="#fff"/>
<rect x="111" y="424" width="3" height="5" fill="#fff"/>
<rect x="117" y="409" width="3" height="5" fill="#fff"/>
<rect x="117" y="424" width="3" height="5" fill="#fff"/>
<rect x="123" y="409" width="3" height="5" fill="#fff"/>
<rect x="123" y="424" width="3" height="5" fill="#fff"/>
<rect x="129" y="409" width="3" height="5" fill="#fff"/>
<rect x="129" y="424" width="3" height="5" fill="#fff"/>
<rect x="135" y="409" width="3" height="5" fill="#fff"/>
<rect x="135" y="424" width="3" height="5" fill="#fff"/>
<rect x="141" y="409" width="3" height="5" fill="#fff"/>
<rect x="141" y="424" width="3" height="5" fill="#fff"/>
<rect x="147" y="409" width="3" height="5" fill="#fff"/>
<rect x="147" y="424" width="3" height="5" fill="#fff"/>
<rect x="153" y="409" width="3" height="5" fill="#fff"/>
<rect x="153" y="424" width="3" height="5" fill="#fff"/>
<rect x="79" y="417" width="73" height="5" fill="#fff"/>
<path d="M158 416.5 L155.5 419.5 L158 422.5 Z" fill="#fff" stroke="none" stroke-width="1" />
<rect x="74" y="432" width="84" height="1" fill="#fff"/>
<rect x="74" y="432" width="84" height="25" fill="#000"/>
<rect x="76" y="434" width="3" height="5" fill="#fff"/>
<rect x="76" y="449" width="3" height="5" fill="#fff"/>
<rect x="82" y="434" width="3" height="5" fill="#fff"/>
<rect x="82" y="449" width="3" height="5" fill="#fff"/>
<rect x="88" y="434" width="3" height="5" fill="#fff"/>
<rect x="88" y="449" width="3" height="5" fill="#fff"/>
<rect x="94" y="434" width="3" height="5" fill="#fff"/>
<rect x="94" y="449" width="3" height="5" fill="#fff"/>
<rect x="100" y="434" width="3" height="5" fill="#fff"/>
<rect x="100" y="449" width="3" height="5" fill="#fff"/>
<rect x="105" y="434" width="3" height="5" fill="#fff"/>
<rect x="105" y="449" width="3" height="5" fill="#fff"/>
<rect x="111" y="434" width="3" height="5" fill="#fff"/>
<rect x="111" y="449" width="3" height="5" fill="#fff"/>
<rect x="117" y="434" width="3" height="5" fill="#fff"/>
<rect x="117" y="449" width="3" height="5" fill="#fff"/>
<rect x="123" y="434" width="3" height="5" fill="#fff"/>
<rect x="123" y="449" width="3" height="5" fill="#fff"/>
<rect x="129" y="434" width="3" height="5" fill="#fff"/>
<rect x="129" y="449" width="3" height="5" fill="#fff"/>
<rect x="135" y="434" width="3" height="5" fill="#fff"/>
<rect x="135" y="449" width="3" height="5" fill="#fff"/>
<rect x="141" y="434" width="3" height="5" fill="#fff"/>
<rect x="141" y="449" width="3" height="5" fill="#fff"/>
<rect x="147" y="434" width="3" height="5" fill="#fff"/>
<rect x="147" y="449" width="3" height="5" fill="#fff"/>
<rect x="153" y="434" width="3" height="5" fill="#fff"/>
<rect x="153" y="449" width="3" height="5" fill="#fff"/>
<rect x="79" y="442" width="73" height="5" fill="#fff"/>
<path d="M158 441.5 L155.5 444.5 L158 447.5 Z" fill="#fff" stroke="none" stroke-width="1" />
<rect x="74" y="457" width="84" height="1" fill="#fff"/>
<rect x="74" y="458" width="84" height="25" fill="#000"/>
<rect x="76" y="460" width="3" height="5" fill="#fff"/>
<rect x="76" y="475" width="3" height="5" fill="#fff"/>
<rect x="82" y="460" width="3" height="5" fill="#fff"/>
<rect x="82" y="475" width="3" height="5" fill="#fff"/>
<rect x="88" y="460" width="3" height="5" fill="#fff"/>
<rect x="88" y="475" width="3" height="5" fill="#fff"/>
<rect x="94" y="460" width="3" height="5" fill="#fff"/>
<rect x="94" y="475" width="3" height="5" fill="#fff"/>
<rect x="100" y="460" width="3" height="5" fill="#fff"/>
<rect x="100" y="475" width="3" height="5" fill="#fff"/>
<rect x="105" y="460" width="3" height="5" fill="#fff"/>
<rect x="105" y="475" width="3" height="5" fill="#fff"/>
<rect x="111" y="460" width="3" height="5" fill="#fff"/>
<rect x="111" y="475" width="3" height="5" fill="#fff"/>
<rect x="117" y="460" width="3" height="5" fill="#fff"/>
<rect x="117" y="475" width="3" height="5" fill="#fff"/>
<rect x="123" y="460" width="3" height="5" fill="#fff"/>
<rect x="123" y="475" width="3" height="5" fill="#fff"/>
<rect x="129" y="460" width="3" height="5" fill="#fff"/>
<rect x="129" y="475" width="3" height="5" fill="#fff"/>
<rect x="135" y="460" width="3" height="5" fill="#fff"/>
<rect x="135" y="475" width="3" height="5" fill="#fff"/>
<rect x="141" y="460" width="3" height="5" fill="#fff"/>
<rect x="141" y="475" width="3" height="5" fill="#fff"/>
<rect x="147" y="460" width="3" height="5" fill="#fff"/>
<rect x="147" y="475" width="3" height="5" fill="#fff"/>
<rect x="153" y="460" width="3" height="5" fill="#fff"/>
<rect x="153" y="475" width="3" height="5" fill="#fff"/>
<rect x="79" y="468" width="73" height="5" fill="#fff"/>
<path d="M158 467.5 L155.5 470.5 L158 473.5 Z" fill="#fff" stroke="none" stroke-width="1" />
<rect x="164" y="407" width="84" height="25" fill="#000"/>
<rect x="166" y="409" width="3" height="5" fill="#fff"/>
<rect x="166" y="424" width="3" height="5" fill="#fff"/>
<rect x="172" y="409" width="3" height="5" fill="#fff"/>
<rect x="172" y="424" width="3" height="5" fill="#fff"/>
<rect x="178" y="409" width="3" height="5" fill="#fff"/>
<rect x="178" y="424" width="3" height="5" fill="#fff"/>
<rect x="184" y="409" width="3" height="5" fill="#fff"/>
<rect x="184" y="424" width="3" height="5" fill="#fff"/>
<rect x="190" y="409" width="3" height="5" fill="#fff"/>
<rect x="190" y="424" width="3" height="5" fill="#fff"/>
<rect x="195" y="409" width="3" height="5" fill="#fff"/>
<rect x="195" y="424" width="3" height="5" fill="#fff"/>
<rect x="201" y="409" width="3" height="5" fill="#fff"/>
<rect x="201" y="424" width="3" height="5" fill="#fff"/>
<rect x="207" y="409" width="3" height="5" fill="#fff"/>
<rect x="207" y="424" width="3" height="5" fill="#fff"/>
<rect x="213" y="409" width="3" height="5" fill="#fff"/>
<rect x="213" y="424" width="3" height="5" fill="#fff"/>
<rect x="219" y="409" width="3" height="5" fill="#fff"/>
<rect x="219" y="424" width="3" height="5" fill="#fff"/>
<rect x="225" y="409" width="3" height="5" fill="#fff"/>
<rect x="225" y="424" width="3" height="5" fill="#fff"/>
<rect x="231" y="409" width="3" height="5" fill="#fff"/>
<rect x="231" y="424" width="3" height="5" fill="#fff"/>
<rect x="237" y="409" width="3" height="5" fill="#fff"/>
<rect x="237" y="424" width="3" height="5" fill="#fff"/>
<rect x="243" y="409" width="3" height="5" fill="#fff"/>
<rect x="243" y="424" width="3" height="5" fill="#fff"/>
<rect x="169" y="416" width="73" height="5" fill="#fff"/>
<path d="M248 415.5 L245.5 418.5 L248 421.5 Z" fill="#fff" stroke="none" stroke-width="1" />
<rect x="164" y="432" width="84" height="1" fill="#fff"/>
<rect x="164" y="433" width="84" height="25" fill="#000"/>
<rect x="166" y="435" width="3" height="5" fill="#fff"/>
<rect x="166" y="450" width="3" height="5" fill="#fff"/>
<rect x="172" y="435" width="3" height="5" fill="#fff"/>
<rect x="172" y="450" width="3" height="5" fill="#fff"/>
<rect x="178" y="435" width="3" height="5" fill="#fff"/>
<rect x="178" y="450" width="3" height="5" fill="#fff"/>
<rect x="184" y="435" width="3" height="5" fill="#fff"/>
<rect x="184" y="450" width="3" height="5" fill="#fff"/>
<rect x="190" y="435" width="3" height="5" fill="#fff"/>
<rect x="190" y="450" width="3" height="5" fill="#fff"/>
<rect x="195" y="435" width="3" height="5" fill="#fff"/>
<rect x="195" y="450" width="3" height="5" fill="#fff"/>
<rect x="201" y="435" width="3" height="5" fill="#fff"/>
<rect x="201" y="450" width="3" height="5" fill="#fff"/>
<rect x="207" y="435" width="3" height="5" fill="#fff"/>
<rect x="207" y="450" width="3" height="5" fill="#fff"/>
<rect x="213" y="435" width="3" height="5" fill="#fff"/>
<rect x="213" y="450" width="3" height="5" fill="#fff"/>
<rect x="219" y="435" width="3" height="5" fill="#fff"/>
<rect x="219" y="450" width="3" height="5" fill="#fff"/>
<rect x="225" y="435" width="3" height="5" fill="#fff"/>
<rect x="225" y="450" width="3" height="5" fill="#fff"/>
<rect x="231" y="435" width="3" height="5" fill="#fff"/>
<rect x="231" y="450" width="3" height="5" fill="#fff"/>
<rect x="237" y="435" width="3" height="5" fill="#fff"/>
<rect x="237" y="450" width="3" height="5" fill="#fff"/>
<rect x="243" y="435" width="3" height="5" fill="#fff"/>
<rect x="243" y="450" width="3" height="5" fill="#fff"/>
<rect x="169" y="442" width="73" height="5" fill="#fff"/>
<path d="M248 441.5 L245.5 444.5 L248 447.5 Z" fill="#fff" stroke="none" stroke-width="1" />
<rect x="164" y="458" width="84" height="1" fill="#fff"/>
<rect x="164" y="458" width="84" height="25" fill="#000"/>
<rect x="166" y="460" width="3" height="5" fill="#fff"/>
<rect x="166" y="475" width="3" height="5" fill="#fff"/>
<rect x="172" y="460" width="3" height="5" fill="#fff"/>
<rect x="172" y="475" width="3" height="5" fill="#fff"/>
<rect x="178" y="460" width="3" height="5" fill="#fff"/>
<rect x="178" y="475" width="3" height="5" fill="#fff"/>
<rect x="184" y="460" width="3" height="5" fill="#fff"/>
<rect x="184" y="475" width="3" height="5" fill="#fff"/>
<rect x="190" y="460" width="3" height="5" fill="#fff"/>
<rect x="190" y="475" width="3" height="5" fill="#fff"/>
<rect x="195" y="460" width="3" height="5" fill="#fff"/>
<rect x="195" y="475" width="3" height="5" fill="#fff"/>
<rect x="201" y="460" width="3" height="5" fill="#fff"/>
<rect x="201" y="475" width="3" height="5" fill="#fff"/>
<rect x="207" y="460" width="3" height="5" fill="#fff"/>
<rect x="207" y="475" width="3" height="5" fill="#fff"/>
<rect x="213" y="460" width="3" height="5" fill="#fff"/>
<rect x="213" y="475" width="3" height="5" fill="#fff"/>
<rect x="219" y="460" width="3" height="5" fill="#fff"/>
<rect x="219" y="475" width="3" height="5" fill="#fff"/>
<rect x="225" y="460" width="3" height="5" fill="#fff"/>
<rect x="225" y="475" width="3" height="5" fill="#fff"/>
<rect x="231" y="460" width="3" height="5" fill="#fff"/>
<rect x="231" y="475" width="3" height="5" fill="#fff"/>
<rect x="237" y="460" width="3" height="5" fill="#fff"/>
<rect x="237" y="475" width="3" height="5" fill="#fff"/>
<rect x="243" y="460" width="3" height="5" fill="#fff"/>
<rect x="243" y="475" width="3" height="5" fill="#fff"/>
<rect x="169" y="467" width="73" height="5" fill="#fff"/>
<path d="M248 466.5 L245.5 469.5 L248 472.5 Z" fill="#fff" stroke="none" stroke-width="1" />
<rect x="164" y="483" width="84" height="1" fill="#fff"/>
<rect x="164" y="484" width="84" height="25" fill="#000"/>
<rect x="166" y="486" width="3" height="5" fill="#fff"/>
<rect x="166" y="501" width="3" height="5" fill="#fff"/>
<rect x="172" y="486" width="3" height="5" fill="#fff"/>
<rect x="172" y="501" width="3" height="5" fill="#fff"/>
<rect x="178" y="486" width="3" height="5" fill="#fff"/>
<rect x="178" y="501" width="3" height="5" fill="#fff"/>
<rect x="184" y="486" width="3" height="5" fill="#fff"/>
<rect x="184" y="501" width="3" height="5" fill="#fff"/>
<rect x="190" y="486" width="3" height="5" fill="#fff"/>
<rect x="190" y="501" width="3" height="5" fill="#fff"/>
<rect x="195" y="486" width="3" height="5" fill="#fff"/>
<rect x="195" y="501" width="3" height="5" fill="#fff"/>
<rect x="201" y="486" width="3" height="5" fill="#fff"/>
<rect x="201" y="501" width="3" height="5" fill="#fff"/>
<rect x="207" y="486" width="3" height="5" fill="#fff"/>
<rect x="207" y="501" width="3" height="5" fill="#fff"/>
<rect x="213" y="486" width="3" height="5" fill="#fff"/>
<rect x="213" y="501" width="3" height="5" fill="#fff"/>
<rect x="219" y="486" width="3" height="5" fill="#fff"/>
<rect x="219" y="501" width="3" height="5" fill="#fff"/>
<rect x="225" y="486" width="3" height="5" fill="#fff"/>
<rect x="225" y="501" width="3" height="5" fill="#fff"/>
<rect x="231" y="486" width="3" height="5" fill="#fff"/>
<rect x="231" y="501" width="3" height="5" fill="#fff"/>
<rect x="237" y="486" width="3" height="5" fill="#fff"/>
<rect x="237" y="501" width="3" height="5" fill="#fff"/>
<rect x="243" y="486" width="3" height="5" fill="#fff"/>
<rect x="243" y="501" width="3" height="5" fill="#fff"/>
<rect x="169" y="493" width="73" height="5" fill="#fff"/>
<path d="M248 492.5 L245.5 495.5 L248 498.5 Z" fill="#fff" stroke="none" stroke-width="1" />
<rect x="166" y="330" width="55" height="25" fill="#000"/>
<rect x="169" y="332" width="3" height="5" fill="#fff"/>
<rect x="169" y="347" width="3" height="5" fill="#fff"/>
<rect x="175" y="332" width="3" height="5" fill="#fff"/>
<rect x="175" y="347" width="3" height="5" fill="#fff"/>
<rect x="180" y="332" width="3" height="5" fill="#fff"/>
<rect x="180" y="347" width="3" height="5" fill="#fff"/>
<rect x="186" y="332" width="3" height="5" fill="#fff"/>
<rect x="186" y="347" width="3" height="5" fill="#fff"/>
<rect x="192" y="332" width="3" height="5" fill="#fff"/>
<rect x="192" y="347" width="3" height="5" fill="#fff"/>
<rect x="198" y="332" width="3" height="5" fill="#fff"/>
<rect x="198" y="347" width="3" height="5" fill="#fff"/>
<rect x="204" y="332" width="3" height="5" fill="#fff"/>
<rect x="204" y="347" width="3" height="5" fill="#fff"/>
<rect x="209" y="332" width="3" height="5" fill="#fff"/>
<rect x="209" y="347" width="3" height="5" fill="#fff"/>
<rect x="215" y="332" width="3" height="5" fill="#fff"/>
<rect x="215" y="347" width="3" height="5" fill="#fff"/>
<rect x="171" y="340" width="44" height="5" fill="#fff"/>
<path d="M221 339.5 L218.5 342.5 L221 345.5 Z" fill="#fff" stroke="none" stroke-width="1" />
<rect x="166" y="355" width="55" height="1" fill="#fff"/>
<rect x="166" y="355" width="55" height="25" fill="#000"/>
<rect x="169" y="357" width="3" height="5" fill="#fff"/>
<rect x="169" y="372" width="3" height="5" fill="#fff"/>
<rect x="175" y="357" width="3" height="5" fill="#fff"/>
<rect x="175" y="372" width="3" height="5" fill="#fff"/>
<rect x="180" y="357" width="3" height="5" fill="#fff"/>
<rect x="180" y="372" width="3" height="5" fill="#fff"/>
<rect x="186" y="357" width="3" height="5" fill="#fff"/>
<rect x="186" y="372" width="3" height="5" fill="#fff"/>
<rect x="192" y="357" width="3" height="5" fill="#fff"/>
<rect x="192" y="372" width="3" height="5" fill="#fff"/>
<rect x="198" y="357" width="3" height="5" fill="#fff"/>
<rect x="198" y="372" width="3" height="5" fill="#fff"/>
<rect x="204" y="357" width="3" height="5" fill="#fff"/>
<rect x="204" y="372" width="3" height="5" fill="#fff"/>
<rect x="209" y="357" width="3" height="5" fill="#fff"/>
<rect x="209" y="372" width="3" height="5" fill="#fff"/>
<rect x="215" y="357" width="3" height="5" fill="#fff"/>
<rect x="215" y="372" width="3" height="5" fill="#fff"/>
<rect x="171" y="365" width="44" height="5" fill="#fff"/>
<path d="M221 364.5 L218.5 367.5 L221 370.5 Z" fill="#fff" stroke="none" stroke-width="1" />
<rect x="191" y="340" width="4" height="6" fill="#000"/>
<rect x="191" y="365" width="4" height="6" fill="#000"/>
<rect x="175" y="348" width="38" height="15" rx="2.5" fill="#fff"/>
<text transform="translate(178,359) scale(0.72,1)" x="0" y="0" font-size="14" fill="#000" textLength="41.67" lengthAdjust="spacing" filter="url(#crisp)" >TAG0</text>
<rect x="83" y="272" width="48" height="25" fill="#000"/>
<rect x="85" y="274" width="4" height="1" fill="#fff"/>
<rect x="85" y="294" width="4" height="1" fill="#fff"/>
<rect x="91" y="274" width="4" height="1" fill="#fff"/>
<rect x="91" y="294" width="4" height="1" fill="#fff"/>
<rect x="97" y="274" width="4" height="1" fill="#fff"/>
<rect x="97" y="294" width="4" height="1" fill="#fff"/>
<rect x="103" y="274" width="4" height="1" fill="#fff"/>
<rect x="103" y="294" width="4" height="1" fill="#fff"/>
<rect x="109" y="274" width="4" height="1" fill="#fff"/>
<rect x="109" y="294" width="4" height="1" fill="#fff"/>
<rect x="115" y="274" width="4" height="1" fill="#fff"/>
<rect x="115" y="294" width="4" height="1" fill="#fff"/>
<rect x="121" y="274" width="4" height="1" fill="#fff"/>
<rect x="121" y="294" width="4" height="1" fill="#fff"/>
<rect x="127" y="274" width="4" height="1" fill="#fff"/>
<rect x="127" y="294" width="4" height="1" fill="#fff"/>
<rect x="88" y="277" width="39" height="15" rx="2.5" fill="#fff"/>
<text transform="translate(92,288) scale(0.72,1)" x="0" y="0" font-size="14" fill="#000" textLength="43.06" lengthAdjust="spacing" filter="url(#crisp)" >TAG1</text>
<path d="M131 281 A3 3 0 0 0 131 287 Z" fill="#fff" stroke="none" stroke-width="1" />
<rect x="108.75" y="395.75" width="15.5" height="74.5" fill="#fff" stroke="#000" stroke-width="1.5" rx="2"/>
<text transform="translate(116.5,408) scale(0.72,1)" x="0" y="0" font-size="13" fill="#000" filter="url(#crisp)" text-anchor="middle">B</text>
<text transform="translate(116.5,424) scale(0.72,1)" x="0" y="0" font-size="13" fill="#000" filter="url(#crisp)" text-anchor="middle">A</text>
<text transform="translate(116.5,441) scale(0.72,1)" x="0" y="0" font-size="13" fill="#000" filter="url(#crisp)" text-anchor="middle">N</text>
<text transform="translate(116.5,453) scale(0.72,1)" x="0" y="0" font-size="13" fill="#000" filter="url(#crisp)" text-anchor="middle">K</text>
<text transform="translate(116.5,467) scale(0.72,1)" x="0" y="0" font-size="13" fill="#000" filter="url(#crisp)" text-anchor="middle">1</text>
<rect x="198.75" y="420.75" width="14.5" height="74.5" fill="#fff" stroke="#000" stroke-width="1.5" rx="2"/>
<text transform="translate(205.5,434) scale(0.72,1)" x="0" y="0" font-size="13" fill="#000" filter="url(#crisp)" text-anchor="middle">B</text>
<text transform="translate(205.5,450) scale(0.72,1)" x="0" y="0" font-size="13" fill="#000" filter="url(#crisp)" text-anchor="middle">A</text>
<text transform="translate(205.5,465) scale(0.72,1)" x="0" y="0" font-size="13" fill="#000" filter="url(#crisp)" text-anchor="middle">N</text>
<text transform="translate(205.5,479) scale(0.72,1)" x="0" y="0" font-size="13" fill="#000" filter="url(#crisp)" text-anchor="middle">K</text>
<text transform="translate(205.5,492) scale(0.72,1)" x="0" y="0" font-size="13" fill="#000" filter="url(#crisp)" text-anchor="middle">0</text>
<rect x="137.75" y="424.75" width="47.5" height="15.5" fill="#fff" stroke="#000" stroke-width="1.5" rx="3"/>
<text transform="translate(139,437) scale(0.72,1)" x="0" y="0" font-size="14" fill="#000" textLength="61.11" lengthAdjust="spacing" filter="url(#crisp)" >CACHE</text>
<rect x="83" y="314" width="19" height="14" fill="#000"/>
<rect x="84" y="315" width="1" height="12" fill="#fff"/>
<rect x="90" y="315" width="1" height="12" fill="#fff"/>
<rect x="85" y="315" width="4" height="1" fill="#fff"/>
<rect x="91" y="315" width="4" height="1" fill="#fff"/>
<rect x="96" y="315" width="5" height="1" fill="#fff"/>
<rect x="85" y="320" width="4" height="1" fill="#fff"/>
<rect x="91" y="320" width="4" height="1" fill="#fff"/>
<rect x="96" y="320" width="5" height="1" fill="#fff"/>
<rect x="85" y="326" width="4" height="1" fill="#fff"/>
<rect x="91" y="326" width="4" height="1" fill="#fff"/>
<rect x="96" y="326" width="5" height="1" fill="#fff"/>
<rect x="53.0" y="290.0" width="31" height="16" fill="#fff" stroke="#000" stroke-width="2" rx="3"/>
<text transform="translate(58,302) scale(0.72,1)" x="0" y="0" font-size="14" fill="#000" textLength="30.56" lengthAdjust="spacing" filter="url(#crisp)" >JP6</text>
<rect x="35.0" y="312.0" width="34" height="16" fill="#fff" stroke="#000" stroke-width="2" rx="3"/>
<text transform="translate(39,324) scale(0.72,1)" x="0" y="0" font-size="14" fill="#000" textLength="29.17" lengthAdjust="spacing" filter="url(#crisp)" >JP7</text>
<rect x="118.0" y="313.0" width="33" height="17" fill="#fff" stroke="#000" stroke-width="2" rx="3"/>
<text transform="translate(122,326) scale(0.72,1)" x="0" y="0" font-size="14" fill="#000" textLength="30.56" lengthAdjust="spacing" filter="url(#crisp)" >JP5</text>
<path d="M67.00 325.00 L71.30 322.50 L79.00 322.20 L79.00 317.80 L71.30 317.50 L67.00 315.00 Z" fill="#000" stroke="none" stroke-width="1" />
<path d="M65.00 322.50 L69.65 320.60 L74.60 320.50 L74.60 319.50 L69.65 319.40 L65.00 317.50 Z" fill="#fff" stroke="none" stroke-width="1" />
<line x1="79" y1="320" x2="83" y2="320" stroke="#000" stroke-width="2"/>
<path d="M119.00 316.00 L114.70 318.50 L107.00 318.80 L107.00 323.20 L114.70 323.50 L119.00 326.00 Z" fill="#000" stroke="none" stroke-width="1" />
<path d="M121.00 318.50 L116.35 320.40 L111.40 320.50 L111.40 321.50 L116.35 321.60 L121.00 323.50 Z" fill="#fff" stroke="none" stroke-width="1" />
<line x1="107" y1="321" x2="102" y2="321" stroke="#000" stroke-width="2"/>
<path d="M76.61 307.35 L80.75 308.98 L86.55 313.66 L89.45 310.34 L84.05 305.22 L81.88 301.33 Z" fill="#000" stroke="none" stroke-width="1" />
<path d="M76.10 304.91 L80.80 306.50 L84.47 309.58 L85.13 308.82 L81.60 305.60 L79.39 301.14 Z" fill="#fff" stroke="none" stroke-width="1" />
<line x1="88" y1="312" x2="92" y2="314" stroke="#000" stroke-width="2"/>
<rect x="83" y="344" width="13" height="19" fill="#000"/>
<rect x="96" y="349" width="6" height="14" fill="#000"/>
<rect x="84" y="345" width="1" height="17" fill="#fff"/>
<rect x="84" y="345" width="11" height="1" fill="#fff"/>
<rect x="86" y="347" width="3" height="3" fill="#fff"/>
<rect x="87" y="348" width="1" height="1" fill="#000"/>
<rect x="90" y="347" width="5" height="3" fill="#fff"/>
<rect x="91" y="348" width="3" height="1" fill="#000"/>
<rect x="85" y="350" width="4" height="1" fill="#fff"/>
<rect x="90" y="350" width="5" height="1" fill="#fff"/>
<rect x="96" y="350" width="5" height="1" fill="#fff"/>
<rect x="85" y="356" width="4" height="1" fill="#fff"/>
<rect x="90" y="356" width="5" height="1" fill="#fff"/>
<rect x="96" y="356" width="5" height="1" fill="#fff"/>
<rect x="96" y="361" width="5" height="1" fill="#fff"/>
<rect x="28.0" y="345.0" width="40" height="17" fill="#fff" stroke="#000" stroke-width="2" rx="3"/>
<text transform="translate(33,357) scale(0.72,1)" x="0" y="0" font-size="14" fill="#000" textLength="40.28" lengthAdjust="spacing" filter="url(#crisp)" >JP10</text>
<rect x="118.0" y="349.0" width="33" height="17" fill="#fff" stroke="#000" stroke-width="2" rx="3"/>
<text transform="translate(122,361) scale(0.72,1)" x="0" y="0" font-size="14" fill="#000" textLength="30.56" lengthAdjust="spacing" filter="url(#crisp)" >JP8</text>
<rect x="53.0" y="370.0" width="32" height="17" fill="#fff" stroke="#000" stroke-width="2" rx="3"/>
<text transform="translate(57,383) scale(0.72,1)" x="0" y="0" font-size="14" fill="#000" textLength="30.56" lengthAdjust="spacing" filter="url(#crisp)" >JP9</text>
<path d="M66.00 358.00 L70.60 355.50 L79.00 355.20 L79.00 350.80 L70.60 350.50 L66.00 348.00 Z" fill="#000" stroke="none" stroke-width="1" />
<path d="M64.00 355.50 L68.80 353.60 L74.20 353.50 L74.20 352.50 L68.80 352.40 L64.00 350.50 Z" fill="#fff" stroke="none" stroke-width="1" />
<line x1="79" y1="353" x2="83" y2="353" stroke="#000" stroke-width="2"/>
<path d="M119.45 352.11 L114.93 354.21 L107.20 353.81 L106.80 358.19 L114.47 359.19 L118.54 362.07 Z" fill="#000" stroke="none" stroke-width="1" />
<path d="M121.21 354.78 L116.40 356.25 L111.45 355.90 L111.35 356.90 L116.30 357.45 L120.76 359.76 Z" fill="#fff" stroke="none" stroke-width="1" />
<line x1="107" y1="356" x2="102" y2="356" stroke="#000" stroke-width="2"/>
<path d="M81.27 373.92 L83.72 370.62 L89.17 366.87 L86.83 363.13 L81.08 366.38 L77.03 367.14 Z" fill="#000" stroke="none" stroke-width="1" />
<path d="M78.78 373.71 L81.52 369.76 L85.06 367.42 L84.54 366.58 L80.88 368.74 L76.13 369.47 Z" fill="#fff" stroke="none" stroke-width="1" />
<line x1="88" y1="365" x2="92" y2="362" stroke="#000" stroke-width="2"/>
<rect x="176" y="272" width="7" height="19" fill="#000"/>
<rect x="178" y="274" width="3" height="3" fill="#fff"/>
<rect x="178" y="279" width="3" height="1" fill="#fff"/>
<rect x="178" y="284" width="3" height="1" fill="#fff"/>
<rect x="178" y="289" width="3" height="1" fill="#fff"/>
<rect x="199.0" y="273.0" width="33" height="17" fill="#fff" stroke="#000" stroke-width="2" rx="3"/>
<text transform="translate(203,285) scale(0.72,1)" x="0" y="0" font-size="14" fill="#000" textLength="29.17" lengthAdjust="spacing" filter="url(#crisp)" >JP3</text>
<path d="M200.00 276.00 L195.70 278.50 L188.00 278.80 L188.00 283.20 L195.70 283.50 L200.00 286.00 Z" fill="#000" stroke="none" stroke-width="1" />
<path d="M202.00 278.50 L197.35 280.40 L192.40 280.50 L192.40 281.50 L197.35 281.60 L202.00 283.50 Z" fill="#fff" stroke="none" stroke-width="1" />
<line x1="188" y1="281" x2="183" y2="281" stroke="#000" stroke-width="2"/>
<path d="M326 265 H408 V344 H330 L326 340 Z" fill="#000" stroke="none" stroke-width="1" />
<rect x="330" y="267" width="2" height="1" fill="#fff"/>
<rect x="329" y="268" width="4" height="2" fill="#fff"/>
<rect x="330" y="273" width="2" height="1" fill="#fff"/>
<rect x="329" y="274" width="4" height="2" fill="#fff"/>
<rect x="330" y="279" width="2" height="1" fill="#fff"/>
<rect x="329" y="280" width="4" height="2" fill="#fff"/>
<rect x="330" y="285" width="2" height="1" fill="#fff"/>
<rect x="329" y="286" width="4" height="2" fill="#fff"/>
<rect x="330" y="291" width="2" height="1" fill="#fff"/>
<rect x="329" y="292" width="4" height="2" fill="#fff"/>
<rect x="330" y="297" width="2" height="1" fill="#fff"/>
<rect x="329" y="298" width="4" height="2" fill="#fff"/>
<rect x="330" y="303" width="2" height="1" fill="#fff"/>
<rect x="329" y="304" width="4" height="2" fill="#fff"/>
<rect x="330" y="308" width="2" height="1" fill="#fff"/>
<rect x="329" y="309" width="4" height="2" fill="#fff"/>
<rect x="330" y="314" width="2" height="1" fill="#fff"/>
<rect x="329" y="315" width="4" height="2" fill="#fff"/>
<rect x="330" y="320" width="2" height="1" fill="#fff"/>
<rect x="329" y="321" width="4" height="2" fill="#fff"/>
<rect x="330" y="326" width="2" height="1" fill="#fff"/>
<rect x="329" y="327" width="4" height="2" fill="#fff"/>
<rect x="330" y="332" width="2" height="1" fill="#fff"/>
<rect x="329" y="333" width="4" height="2" fill="#fff"/>
<rect x="330" y="338" width="2" height="1" fill="#fff"/>
<rect x="329" y="339" width="4" height="2" fill="#fff"/>
<rect x="336" y="267" width="2" height="1" fill="#fff"/>
<rect x="335" y="268" width="4" height="2" fill="#fff"/>
<rect x="336" y="273" width="2" height="1" fill="#fff"/>
<rect x="335" y="274" width="4" height="2" fill="#fff"/>
<rect x="336" y="279" width="2" height="1" fill="#fff"/>
<rect x="335" y="280" width="4" height="2" fill="#fff"/>
<rect x="336" y="285" width="2" height="1" fill="#fff"/>
<rect x="335" y="286" width="4" height="2" fill="#fff"/>
<rect x="336" y="291" width="2" height="1" fill="#fff"/>
<rect x="335" y="292" width="4" height="2" fill="#fff"/>
<rect x="336" y="297" width="2" height="1" fill="#fff"/>
<rect x="335" y="298" width="4" height="2" fill="#fff"/>
<rect x="336" y="303" width="2" height="1" fill="#fff"/>
<rect x="335" y="304" width="4" height="2" fill="#fff"/>
<rect x="336" y="308" width="2" height="1" fill="#fff"/>
<rect x="335" y="309" width="4" height="2" fill="#fff"/>
<rect x="336" y="314" width="2" height="1" fill="#fff"/>
<rect x="335" y="315" width="4" height="2" fill="#fff"/>
<rect x="336" y="320" width="2" height="1" fill="#fff"/>
<rect x="335" y="321" width="4" height="2" fill="#fff"/>
<rect x="336" y="326" width="2" height="1" fill="#fff"/>
<rect x="335" y="327" width="4" height="2" fill="#fff"/>
<rect x="336" y="332" width="2" height="1" fill="#fff"/>
<rect x="335" y="333" width="4" height="2" fill="#fff"/>
<rect x="336" y="338" width="2" height="1" fill="#fff"/>
<rect x="335" y="339" width="4" height="2" fill="#fff"/>
<rect x="342" y="267" width="2" height="1" fill="#fff"/>
<rect x="341" y="268" width="4" height="2" fill="#fff"/>
<rect x="342" y="273" width="2" height="1" fill="#fff"/>
<rect x="341" y="274" width="4" height="2" fill="#fff"/>
<rect x="342" y="279" width="2" height="1" fill="#fff"/>
<rect x="341" y="280" width="4" height="2" fill="#fff"/>
<rect x="342" y="285" width="2" height="1" fill="#fff"/>
<rect x="341" y="286" width="4" height="2" fill="#fff"/>
<rect x="342" y="291" width="2" height="1" fill="#fff"/>
<rect x="341" y="292" width="4" height="2" fill="#fff"/>
<rect x="342" y="297" width="2" height="1" fill="#fff"/>
<rect x="341" y="298" width="4" height="2" fill="#fff"/>
<rect x="342" y="303" width="2" height="1" fill="#fff"/>
<rect x="341" y="304" width="4" height="2" fill="#fff"/>
<rect x="342" y="308" width="2" height="1" fill="#fff"/>
<rect x="341" y="309" width="4" height="2" fill="#fff"/>
<rect x="342" y="314" width="2" height="1" fill="#fff"/>
<rect x="341" y="315" width="4" height="2" fill="#fff"/>
<rect x="342" y="320" width="2" height="1" fill="#fff"/>
<rect x="341" y="321" width="4" height="2" fill="#fff"/>
<rect x="342" y="326" width="2" height="1" fill="#fff"/>
<rect x="341" y="327" width="4" height="2" fill="#fff"/>
<rect x="342" y="332" width="2" height="1" fill="#fff"/>
<rect x="341" y="333" width="4" height="2" fill="#fff"/>
<rect x="342" y="338" width="2" height="1" fill="#fff"/>
<rect x="341" y="339" width="4" height="2" fill="#fff"/>
<rect x="349" y="267" width="2" height="1" fill="#fff"/>
<rect x="348" y="268" width="4" height="2" fill="#fff"/>
<rect x="349" y="273" width="2" height="1" fill="#fff"/>
<rect x="348" y="274" width="4" height="2" fill="#fff"/>
<rect x="349" y="279" width="2" height="1" fill="#fff"/>
<rect x="348" y="280" width="4" height="2" fill="#fff"/>
<rect x="349" y="326" width="2" height="1" fill="#fff"/>
<rect x="348" y="327" width="4" height="2" fill="#fff"/>
<rect x="349" y="332" width="2" height="1" fill="#fff"/>
<rect x="348" y="333" width="4" height="2" fill="#fff"/>
<rect x="349" y="338" width="2" height="1" fill="#fff"/>
<rect x="348" y="339" width="4" height="2" fill="#fff"/>
<rect x="355" y="267" width="2" height="1" fill="#fff"/>
<rect x="354" y="268" width="4" height="2" fill="#fff"/>
<rect x="355" y="273" width="2" height="1" fill="#fff"/>
<rect x="354" y="274" width="4" height="2" fill="#fff"/>
<rect x="355" y="279" width="2" height="1" fill="#fff"/>
<rect x="354" y="280" width="4" height="2" fill="#fff"/>
<rect x="355" y="326" width="2" height="1" fill="#fff"/>
<rect x="354" y="327" width="4" height="2" fill="#fff"/>
<rect x="355" y="332" width="2" height="1" fill="#fff"/>
<rect x="354" y="333" width="4" height="2" fill="#fff"/>
<rect x="355" y="338" width="2" height="1" fill="#fff"/>
<rect x="354" y="339" width="4" height="2" fill="#fff"/>
<rect x="361" y="267" width="2" height="1" fill="#fff"/>
<rect x="360" y="268" width="4" height="2" fill="#fff"/>
<rect x="361" y="273" width="2" height="1" fill="#fff"/>
<rect x="360" y="274" width="4" height="2" fill="#fff"/>
<rect x="361" y="279" width="2" height="1" fill="#fff"/>
<rect x="360" y="280" width="4" height="2" fill="#fff"/>
<rect x="361" y="326" width="2" height="1" fill="#fff"/>
<rect x="360" y="327" width="4" height="2" fill="#fff"/>
<rect x="361" y="332" width="2" height="1" fill="#fff"/>
<rect x="360" y="333" width="4" height="2" fill="#fff"/>
<rect x="361" y="338" width="2" height="1" fill="#fff"/>
<rect x="360" y="339" width="4" height="2" fill="#fff"/>
<rect x="367" y="267" width="2" height="1" fill="#fff"/>
<rect x="366" y="268" width="4" height="2" fill="#fff"/>
<rect x="367" y="273" width="2" height="1" fill="#fff"/>
<rect x="366" y="274" width="4" height="2" fill="#fff"/>
<rect x="367" y="279" width="2" height="1" fill="#fff"/>
<rect x="366" y="280" width="4" height="2" fill="#fff"/>
<rect x="367" y="326" width="2" height="1" fill="#fff"/>
<rect x="366" y="327" width="4" height="2" fill="#fff"/>
<rect x="367" y="332" width="2" height="1" fill="#fff"/>
<rect x="366" y="333" width="4" height="2" fill="#fff"/>
<rect x="367" y="338" width="2" height="1" fill="#fff"/>
<rect x="366" y="339" width="4" height="2" fill="#fff"/>
<rect x="372" y="267" width="2" height="1" fill="#fff"/>
<rect x="371" y="268" width="4" height="2" fill="#fff"/>
<rect x="372" y="273" width="2" height="1" fill="#fff"/>
<rect x="371" y="274" width="4" height="2" fill="#fff"/>
<rect x="372" y="279" width="2" height="1" fill="#fff"/>
<rect x="371" y="280" width="4" height="2" fill="#fff"/>
<rect x="372" y="326" width="2" height="1" fill="#fff"/>
<rect x="371" y="327" width="4" height="2" fill="#fff"/>
<rect x="372" y="332" width="2" height="1" fill="#fff"/>
<rect x="371" y="333" width="4" height="2" fill="#fff"/>
<rect x="372" y="338" width="2" height="1" fill="#fff"/>
<rect x="371" y="339" width="4" height="2" fill="#fff"/>
<rect x="378" y="267" width="2" height="1" fill="#fff"/>
<rect x="377" y="268" width="4" height="2" fill="#fff"/>
<rect x="378" y="273" width="2" height="1" fill="#fff"/>
<rect x="377" y="274" width="4" height="2" fill="#fff"/>
<rect x="378" y="279" width="2" height="1" fill="#fff"/>
<rect x="377" y="280" width="4" height="2" fill="#fff"/>
<rect x="378" y="326" width="2" height="1" fill="#fff"/>
<rect x="377" y="327" width="4" height="2" fill="#fff"/>
<rect x="378" y="332" width="2" height="1" fill="#fff"/>
<rect x="377" y="333" width="4" height="2" fill="#fff"/>
<rect x="378" y="338" width="2" height="1" fill="#fff"/>
<rect x="377" y="339" width="4" height="2" fill="#fff"/>
<rect x="384" y="267" width="2" height="1" fill="#fff"/>
<rect x="383" y="268" width="4" height="2" fill="#fff"/>
<rect x="384" y="273" width="2" height="1" fill="#fff"/>
<rect x="383" y="274" width="4" height="2" fill="#fff"/>
<rect x="384" y="279" width="2" height="1" fill="#fff"/>
<rect x="383" y="280" width="4" height="2" fill="#fff"/>
<rect x="384" y="326" width="2" height="1" fill="#fff"/>
<rect x="383" y="327" width="4" height="2" fill="#fff"/>
<rect x="384" y="332" width="2" height="1" fill="#fff"/>
<rect x="383" y="333" width="4" height="2" fill="#fff"/>
<rect x="384" y="338" width="2" height="1" fill="#fff"/>
<rect x="383" y="339" width="4" height="2" fill="#fff"/>
<rect x="390" y="267" width="2" height="1" fill="#fff"/>
<rect x="389" y="268" width="4" height="2" fill="#fff"/>
<rect x="390" y="273" width="2" height="1" fill="#fff"/>
<rect x="389" y="274" width="4" height="2" fill="#fff"/>
<rect x="390" y="279" width="2" height="1" fill="#fff"/>
<rect x="389" y="280" width="4" height="2" fill="#fff"/>
<rect x="390" y="285" width="2" height="1" fill="#fff"/>
<rect x="389" y="286" width="4" height="2" fill="#fff"/>
<rect x="390" y="291" width="2" height="1" fill="#fff"/>
<rect x="389" y="292" width="4" height="2" fill="#fff"/>
<rect x="390" y="297" width="2" height="1" fill="#fff"/>
<rect x="389" y="298" width="4" height="2" fill="#fff"/>
<rect x="390" y="303" width="2" height="1" fill="#fff"/>
<rect x="389" y="304" width="4" height="2" fill="#fff"/>
<rect x="390" y="308" width="2" height="1" fill="#fff"/>
<rect x="389" y="309" width="4" height="2" fill="#fff"/>
<rect x="390" y="314" width="2" height="1" fill="#fff"/>
<rect x="389" y="315" width="4" height="2" fill="#fff"/>
<rect x="390" y="320" width="2" height="1" fill="#fff"/>
<rect x="389" y="321" width="4" height="2" fill="#fff"/>
<rect x="390" y="326" width="2" height="1" fill="#fff"/>
<rect x="389" y="327" width="4" height="2" fill="#fff"/>
<rect x="390" y="332" width="2" height="1" fill="#fff"/>
<rect x="389" y="333" width="4" height="2" fill="#fff"/>
<rect x="390" y="338" width="2" height="1" fill="#fff"/>
<rect x="389" y="339" width="4" height="2" fill="#fff"/>
<rect x="396" y="267" width="2" height="1" fill="#fff"/>
<rect x="395" y="268" width="4" height="2" fill="#fff"/>
<rect x="396" y="273" width="2" height="1" fill="#fff"/>
<rect x="395" y="274" width="4" height="2" fill="#fff"/>
<rect x="396" y="279" width="2" height="1" fill="#fff"/>
<rect x="395" y="280" width="4" height="2" fill="#fff"/>
<rect x="396" y="285" width="2" height="1" fill="#fff"/>
<rect x="395" y="286" width="4" height="2" fill="#fff"/>
<rect x="396" y="291" width="2" height="1" fill="#fff"/>
<rect x="395" y="292" width="4" height="2" fill="#fff"/>
<rect x="396" y="297" width="2" height="1" fill="#fff"/>
<rect x="395" y="298" width="4" height="2" fill="#fff"/>
<rect x="396" y="303" width="2" height="1" fill="#fff"/>
<rect x="395" y="304" width="4" height="2" fill="#fff"/>
<rect x="396" y="308" width="2" height="1" fill="#fff"/>
<rect x="395" y="309" width="4" height="2" fill="#fff"/>
<rect x="396" y="314" width="2" height="1" fill="#fff"/>
<rect x="395" y="315" width="4" height="2" fill="#fff"/>
<rect x="396" y="320" width="2" height="1" fill="#fff"/>
<rect x="395" y="321" width="4" height="2" fill="#fff"/>
<rect x="396" y="326" width="2" height="1" fill="#fff"/>
<rect x="395" y="327" width="4" height="2" fill="#fff"/>
<rect x="396" y="332" width="2" height="1" fill="#fff"/>
<rect x="395" y="333" width="4" height="2" fill="#fff"/>
<rect x="396" y="338" width="2" height="1" fill="#fff"/>
<rect x="395" y="339" width="4" height="2" fill="#fff"/>
<rect x="402" y="267" width="2" height="1" fill="#fff"/>
<rect x="401" y="268" width="4" height="2" fill="#fff"/>
<rect x="402" y="273" width="2" height="1" fill="#fff"/>
<rect x="401" y="274" width="4" height="2" fill="#fff"/>
<rect x="402" y="279" width="2" height="1" fill="#fff"/>
<rect x="401" y="280" width="4" height="2" fill="#fff"/>
<rect x="402" y="285" width="2" height="1" fill="#fff"/>
<rect x="401" y="286" width="4" height="2" fill="#fff"/>
<rect x="402" y="291" width="2" height="1" fill="#fff"/>
<rect x="401" y="292" width="4" height="2" fill="#fff"/>
<rect x="402" y="297" width="2" height="1" fill="#fff"/>
<rect x="401" y="298" width="4" height="2" fill="#fff"/>
<rect x="402" y="303" width="2" height="1" fill="#fff"/>
<rect x="401" y="304" width="4" height="2" fill="#fff"/>
<rect x="402" y="308" width="2" height="1" fill="#fff"/>
<rect x="401" y="309" width="4" height="2" fill="#fff"/>
<rect x="402" y="314" width="2" height="1" fill="#fff"/>
<rect x="401" y="315" width="4" height="2" fill="#fff"/>
<rect x="402" y="320" width="2" height="1" fill="#fff"/>
<rect x="401" y="321" width="4" height="2" fill="#fff"/>
<rect x="402" y="326" width="2" height="1" fill="#fff"/>
<rect x="401" y="327" width="4" height="2" fill="#fff"/>
<rect x="402" y="332" width="2" height="1" fill="#fff"/>
<rect x="401" y="333" width="4" height="2" fill="#fff"/>
<rect x="402" y="338" width="2" height="1" fill="#fff"/>
<rect x="401" y="339" width="4" height="2" fill="#fff"/>
<rect x="349" y="287" width="35" height="35" fill="#fff"/>
<rect x="351.0" y="296.0" width="31" height="16" fill="#fff" stroke="#000" stroke-width="2" rx="2"/>
<text transform="translate(354,311) scale(0.72,1)" x="0" y="0" font-size="14.5" fill="#000" textLength="34.72" lengthAdjust="spacing" filter="url(#crisp)" >NPU</text>
<circle cx="354.5" cy="317.5" r="2.2" fill="#000" shape-rendering="auto"/>
<rect x="351" y="409" width="60" height="58" fill="#000"/>
<rect x="356" y="403" width="1" height="6" fill="#000"/>
<rect x="356" y="467" width="1" height="6" fill="#000"/>
<rect x="358" y="403" width="1" height="6" fill="#000"/>
<rect x="358" y="467" width="1" height="6" fill="#000"/>
<rect x="360" y="403" width="1" height="6" fill="#000"/>
<rect x="360" y="467" width="1" height="6" fill="#000"/>
<rect x="362" y="403" width="1" height="6" fill="#000"/>
<rect x="362" y="467" width="1" height="6" fill="#000"/>
<rect x="364" y="403" width="1" height="6" fill="#000"/>
<rect x="364" y="467" width="1" height="6" fill="#000"/>
<rect x="366" y="403" width="1" height="6" fill="#000"/>
<rect x="366" y="467" width="1" height="6" fill="#000"/>
<rect x="368" y="403" width="1" height="6" fill="#000"/>
<rect x="368" y="467" width="1" height="6" fill="#000"/>
<rect x="370" y="403" width="1" height="6" fill="#000"/>
<rect x="370" y="467" width="1" height="6" fill="#000"/>
<rect x="372" y="403" width="1" height="6" fill="#000"/>
<rect x="372" y="467" width="1" height="6" fill="#000"/>
<rect x="374" y="403" width="1" height="6" fill="#000"/>
<rect x="374" y="467" width="1" height="6" fill="#000"/>
<rect x="376" y="403" width="1" height="6" fill="#000"/>
<rect x="376" y="467" width="1" height="6" fill="#000"/>
<rect x="378" y="403" width="1" height="6" fill="#000"/>
<rect x="378" y="467" width="1" height="6" fill="#000"/>
<rect x="380" y="403" width="1" height="6" fill="#000"/>
<rect x="380" y="467" width="1" height="6" fill="#000"/>
<rect x="382" y="403" width="1" height="6" fill="#000"/>
<rect x="382" y="467" width="1" height="6" fill="#000"/>
<rect x="384" y="403" width="1" height="6" fill="#000"/>
<rect x="384" y="467" width="1" height="6" fill="#000"/>
<rect x="386" y="403" width="1" height="6" fill="#000"/>
<rect x="386" y="467" width="1" height="6" fill="#000"/>
<rect x="388" y="403" width="1" height="6" fill="#000"/>
<rect x="388" y="467" width="1" height="6" fill="#000"/>
<rect x="390" y="403" width="1" height="6" fill="#000"/>
<rect x="390" y="467" width="1" height="6" fill="#000"/>
<rect x="392" y="403" width="1" height="6" fill="#000"/>
<rect x="392" y="467" width="1" height="6" fill="#000"/>
<rect x="394" y="403" width="1" height="6" fill="#000"/>
<rect x="394" y="467" width="1" height="6" fill="#000"/>
<rect x="396" y="403" width="1" height="6" fill="#000"/>
<rect x="396" y="467" width="1" height="6" fill="#000"/>
<rect x="398" y="403" width="1" height="6" fill="#000"/>
<rect x="398" y="467" width="1" height="6" fill="#000"/>
<rect x="400" y="403" width="1" height="6" fill="#000"/>
<rect x="400" y="467" width="1" height="6" fill="#000"/>
<rect x="402" y="403" width="1" height="6" fill="#000"/>
<rect x="402" y="467" width="1" height="6" fill="#000"/>
<rect x="404" y="403" width="1" height="6" fill="#000"/>
<rect x="404" y="467" width="1" height="6" fill="#000"/>
<rect x="406" y="403" width="1" height="6" fill="#000"/>
<rect x="406" y="467" width="1" height="6" fill="#000"/>
<rect x="346" y="412" width="5" height="1" fill="#000"/>
<rect x="411" y="412" width="5" height="1" fill="#000"/>
<rect x="346" y="414" width="5" height="1" fill="#000"/>
<rect x="411" y="414" width="5" height="1" fill="#000"/>
<rect x="346" y="416" width="5" height="1" fill="#000"/>
<rect x="411" y="416" width="5" height="1" fill="#000"/>
<rect x="346" y="418" width="5" height="1" fill="#000"/>
<rect x="411" y="418" width="5" height="1" fill="#000"/>
<rect x="346" y="420" width="5" height="1" fill="#000"/>
<rect x="411" y="420" width="5" height="1" fill="#000"/>
<rect x="346" y="422" width="5" height="1" fill="#000"/>
<rect x="411" y="422" width="5" height="1" fill="#000"/>
<rect x="346" y="424" width="5" height="1" fill="#000"/>
<rect x="411" y="424" width="5" height="1" fill="#000"/>
<rect x="346" y="426" width="5" height="1" fill="#000"/>
<rect x="411" y="426" width="5" height="1" fill="#000"/>
<rect x="346" y="428" width="5" height="1" fill="#000"/>
<rect x="411" y="428" width="5" height="1" fill="#000"/>
<rect x="346" y="430" width="5" height="1" fill="#000"/>
<rect x="411" y="430" width="5" height="1" fill="#000"/>
<rect x="346" y="432" width="5" height="1" fill="#000"/>
<rect x="411" y="432" width="5" height="1" fill="#000"/>
<rect x="346" y="434" width="5" height="1" fill="#000"/>
<rect x="411" y="434" width="5" height="1" fill="#000"/>
<rect x="346" y="436" width="5" height="1" fill="#000"/>
<rect x="411" y="436" width="5" height="1" fill="#000"/>
<rect x="346" y="438" width="5" height="1" fill="#000"/>
<rect x="411" y="438" width="5" height="1" fill="#000"/>
<rect x="346" y="440" width="5" height="1" fill="#000"/>
<rect x="411" y="440" width="5" height="1" fill="#000"/>
<rect x="346" y="442" width="5" height="1" fill="#000"/>
<rect x="411" y="442" width="5" height="1" fill="#000"/>
<rect x="346" y="444" width="5" height="1" fill="#000"/>
<rect x="411" y="444" width="5" height="1" fill="#000"/>
<rect x="346" y="446" width="5" height="1" fill="#000"/>
<rect x="411" y="446" width="5" height="1" fill="#000"/>
<rect x="346" y="448" width="5" height="1" fill="#000"/>
<rect x="411" y="448" width="5" height="1" fill="#000"/>
<rect x="346" y="450" width="5" height="1" fill="#000"/>
<rect x="411" y="450" width="5" height="1" fill="#000"/>
<rect x="346" y="452" width="5" height="1" fill="#000"/>
<rect x="411" y="452" width="5" height="1" fill="#000"/>
<rect x="346" y="454" width="5" height="1" fill="#000"/>
<rect x="411" y="454" width="5" height="1" fill="#000"/>
<rect x="346" y="456" width="5" height="1" fill="#000"/>
<rect x="411" y="456" width="5" height="1" fill="#000"/>
<rect x="346" y="458" width="5" height="1" fill="#000"/>
<rect x="411" y="458" width="5" height="1" fill="#000"/>
<rect x="346" y="460" width="5" height="1" fill="#000"/>
<rect x="411" y="460" width="5" height="1" fill="#000"/>
<rect x="346" y="462" width="5" height="1" fill="#000"/>
<rect x="411" y="462" width="5" height="1" fill="#000"/>
<line x1="347.5" y1="405" x2="352.5" y2="409.5" stroke="#000" stroke-width="5" stroke-linecap="round" shape-rendering="auto"/>
<line x1="413.5" y1="405" x2="408.5" y2="409.5" stroke="#000" stroke-width="5" stroke-linecap="round" shape-rendering="auto"/>
<line x1="347.5" y1="471" x2="352.5" y2="466.5" stroke="#000" stroke-width="5" stroke-linecap="round" shape-rendering="auto"/>
<line x1="413.5" y1="471" x2="408.5" y2="466.5" stroke="#000" stroke-width="5" stroke-linecap="round" shape-rendering="auto"/>
<rect x="367" y="431" width="28" height="14" fill="#fff"/>
<text transform="translate(368,445) scale(0.72,1)" x="0" y="0" font-size="14" fill="#000" textLength="34.72" lengthAdjust="spacing" filter="url(#crisp)" >CPU</text>
<circle cx="403.5" cy="459.5" r="3.5" fill="#fff" shape-rendering="auto"/>
<rect x="570" y="356" width="127" height="43" fill="#000"/>
<rect x="572" y="358" width="4" height="1" fill="#fff"/>
<rect x="578" y="358" width="4" height="1" fill="#fff"/>
<rect x="584" y="358" width="4" height="1" fill="#fff"/>
<rect x="590" y="358" width="4" height="1" fill="#fff"/>
<rect x="596" y="358" width="4" height="1" fill="#fff"/>
<rect x="602" y="358" width="4" height="1" fill="#fff"/>
<rect x="608" y="358" width="4" height="1" fill="#fff"/>
<rect x="614" y="358" width="4" height="1" fill="#fff"/>
<rect x="620" y="358" width="4" height="1" fill="#fff"/>
<rect x="626" y="358" width="4" height="1" fill="#fff"/>
<rect x="632" y="358" width="4" height="1" fill="#fff"/>
<rect x="638" y="358" width="4" height="1" fill="#fff"/>
<rect x="644" y="358" width="4" height="1" fill="#fff"/>
<rect x="650" y="358" width="4" height="1" fill="#fff"/>
<rect x="656" y="358" width="4" height="1" fill="#fff"/>
<rect x="662" y="358" width="4" height="1" fill="#fff"/>
<rect x="668" y="358" width="4" height="1" fill="#fff"/>
<rect x="674" y="358" width="4" height="1" fill="#fff"/>
<rect x="680" y="358" width="4" height="1" fill="#fff"/>
<rect x="686" y="358" width="4" height="1" fill="#fff"/>
<rect x="692" y="358" width="4" height="1" fill="#fff"/>
<rect x="695" y="372" width="2" height="13" fill="#fff"/>
<rect x="619" y="371" width="28" height="14" fill="#fff"/>
<rect x="619" y="384" width="1" height="1" fill="#000"/>
<text transform="translate(621,382) scale(0.72,1)" x="0" y="0" font-size="14" fill="#000" textLength="34.72" lengthAdjust="spacing" filter="url(#crisp)" >KBD</text>
<rect x="365" y="70" width="40" height="15" fill="#fff"/>
<rect x="365" y="84" width="1" height="1" fill="#000"/>
<rect x="404" y="84" width="1" height="1" fill="#000"/>
<text transform="translate(370,82) scale(0.72,1)" x="0" y="0" font-size="14" fill="#000" textLength="40.28" lengthAdjust="spacing" filter="url(#crisp)" >BIOS</text>
<rect x="236" y="18" width="30" height="15" fill="#fff"/>
<rect x="236" y="32" width="1" height="1" fill="#000"/>
<rect x="265" y="32" width="1" height="1" fill="#000"/>
<text transform="translate(239,29) scale(0.72,1)" x="0" y="0" font-size="14" fill="#000" textLength="29.17" lengthAdjust="spacing" filter="url(#crisp)" >SL1</text>
<rect x="643.0" y="400.0" width="33" height="16" fill="#fff" stroke="#000" stroke-width="2" rx="3"/>
<text transform="translate(648,412) scale(0.72,1)" x="0" y="0" font-size="14" fill="#000" textLength="29.17" lengthAdjust="spacing" filter="url(#crisp)" >JP1</text>
<path d="M669.64 417.39 L673.47 418.70 L678.57 422.67 L681.43 419.33 L676.73 414.90 L674.84 411.31 Z" fill="#000" stroke="none" stroke-width="1" />
<path d="M669.10 414.95 L673.66 416.36 L676.87 418.98 L677.53 418.22 L674.44 415.44 L672.35 411.15 Z" fill="#fff" stroke="none" stroke-width="1" />
<line x1="680" y1="421" x2="683" y2="422" stroke="#000" stroke-width="2"/>
<rect x="683" y="419" width="14" height="7" fill="#000"/>
<rect x="684" y="420" width="2" height="5" fill="#fff"/>
<rect x="689" y="420" width="2" height="5" fill="#fff"/>
<rect x="694" y="420" width="2" height="5" fill="#fff"/>
<rect x="631.0" y="423.0" width="33" height="17" fill="#fff" stroke="#000" stroke-width="2" rx="3"/>
<text transform="translate(636,437) scale(0.72,1)" x="0" y="0" font-size="14" fill="#000" textLength="27.78" lengthAdjust="spacing" filter="url(#crisp)" >J10</text>
<path d="M662.00 436.00 L666.30 433.50 L674.00 433.20 L674.00 428.80 L666.30 428.50 L662.00 426.00 Z" fill="#000" stroke="none" stroke-width="1" />
<path d="M660.00 433.50 L664.65 431.60 L669.60 431.50 L669.60 430.50 L664.65 430.40 L660.00 428.50 Z" fill="#fff" stroke="none" stroke-width="1" />
<line x1="674" y1="431" x2="679" y2="431" stroke="#000" stroke-width="2"/>
<rect x="679" y="428" width="26" height="7" fill="#000"/>
<rect x="680" y="429" width="1" height="5" fill="#fff"/>
<rect x="686" y="429" width="1" height="5" fill="#fff"/>
<rect x="691" y="429" width="1" height="5" fill="#fff"/>
<rect x="697" y="429" width="1" height="5" fill="#fff"/>
<rect x="692" y="429" width="1" height="5" fill="#fff"/>
<rect x="699" y="429" width="5" height="5" fill="#fff"/>
<rect x="700" y="430" width="3" height="3" fill="#000"/>
<rect x="583.0" y="441.0" width="33" height="17" fill="#fff" stroke="#000" stroke-width="2" rx="3"/>
<text transform="translate(587,454) scale(0.72,1)" x="0" y="0" font-size="14" fill="#000" textLength="30.56" lengthAdjust="spacing" filter="url(#crisp)" >JP2</text>
<path d="M614.00 454.00 L618.30 451.50 L626.00 451.20 L626.00 446.80 L618.30 446.50 L614.00 444.00 Z" fill="#000" stroke="none" stroke-width="1" />
<path d="M612.00 451.50 L616.65 449.60 L621.60 449.50 L621.60 448.50 L616.65 448.40 L612.00 446.50 Z" fill="#fff" stroke="none" stroke-width="1" />
<line x1="626" y1="449" x2="631" y2="449" stroke="#000" stroke-width="2"/>
<rect x="631" y="446" width="20" height="7" fill="#000"/>
<rect x="632" y="447" width="1" height="5" fill="#fff"/>
<rect x="637" y="447" width="2" height="5" fill="#fff"/>
<rect x="643" y="447" width="1" height="5" fill="#fff"/>
<rect x="645" y="447" width="5" height="5" fill="#fff"/>
<rect x="646" y="448" width="3" height="3" fill="#000"/>
<path d="M764.5 368.5 H784.5 Q787.5 369 787 373 Q785.5 378 787.5 382 Q786 386 787 391 Q788 397 786 402 Q787 409 782.5 409.5 H765.5 Q761 409 761.5 404 Q763 399 761.5 395 Q760 391 761.5 388 Q763 383 761.5 378 Q761 373 761.5 371 Q762 368.5 764.5 368.5 Z" fill="none" stroke="#000" stroke-width="1" shape-rendering="crispEdges"/>
<rect x="771" y="435" width="25" height="37" fill="#000"/>
<rect x="796" y="431" width="2" height="46" fill="#000"/>
<rect x="798" y="428" width="3" height="51" fill="#000"/>
<rect x="769" y="441" width="2" height="26" fill="#000"/>
<rect x="765.5" y="444.5" width="4" height="7" fill="#fff" stroke="#000" stroke-width="1"/>
<rect x="765.5" y="455.5" width="4" height="8" fill="#fff" stroke="#000" stroke-width="1"/>
<rect x="770" y="451" width="2" height="6" fill="#fff"/>
<rect x="611.5" y="472.5" width="113" height="23" fill="#fff" stroke="#000" stroke-width="1"/>
<rect x="615" y="475" width="4" height="1" fill="#000"/>
<rect x="613" y="476" width="7" height="2" fill="#000"/>
<rect x="615" y="478" width="4" height="1" fill="#000"/>
<rect x="613" y="482" width="7" height="3" fill="#000"/>
<rect x="624" y="475" width="4" height="1" fill="#000"/>
<rect x="622" y="476" width="7" height="2" fill="#000"/>
<rect x="624" y="478" width="4" height="1" fill="#000"/>
<rect x="622" y="482" width="7" height="3" fill="#000"/>
<rect x="634" y="475" width="4" height="1" fill="#000"/>
<rect x="632" y="476" width="7" height="2" fill="#000"/>
<rect x="634" y="478" width="4" height="1" fill="#000"/>
<rect x="632" y="482" width="7" height="3" fill="#000"/>
<rect x="643" y="475" width="4" height="1" fill="#000"/>
<rect x="641" y="476" width="7" height="2" fill="#000"/>
<rect x="643" y="478" width="4" height="1" fill="#000"/>
<rect x="641" y="482" width="7" height="3" fill="#000"/>
<rect x="652" y="475" width="4" height="1" fill="#000"/>
<rect x="650" y="476" width="7" height="2" fill="#000"/>
<rect x="652" y="478" width="4" height="1" fill="#000"/>
<rect x="650" y="482" width="7" height="3" fill="#000"/>
<rect x="661" y="475" width="4" height="1" fill="#000"/>
<rect x="659" y="476" width="7" height="2" fill="#000"/>
<rect x="661" y="478" width="4" height="1" fill="#000"/>
<rect x="659" y="482" width="7" height="3" fill="#000"/>
<rect x="671" y="475" width="4" height="1" fill="#000"/>
<rect x="669" y="476" width="7" height="2" fill="#000"/>
<rect x="671" y="478" width="4" height="1" fill="#000"/>
<rect x="669" y="482" width="7" height="3" fill="#000"/>
<rect x="680" y="475" width="4" height="1" fill="#000"/>
<rect x="678" y="476" width="7" height="2" fill="#000"/>
<rect x="680" y="478" width="4" height="1" fill="#000"/>
<rect x="678" y="482" width="7" height="3" fill="#000"/>
<rect x="689" y="475" width="4" height="1" fill="#000"/>
<rect x="687" y="476" width="7" height="2" fill="#000"/>
<rect x="689" y="478" width="4" height="1" fill="#000"/>
<rect x="687" y="482" width="7" height="3" fill="#000"/>
<rect x="698" y="475" width="4" height="1" fill="#000"/>
<rect x="696" y="476" width="7" height="2" fill="#000"/>
<rect x="698" y="478" width="4" height="1" fill="#000"/>
<rect x="696" y="482" width="7" height="3" fill="#000"/>
<rect x="708" y="475" width="4" height="1" fill="#000"/>
<rect x="706" y="476" width="7" height="2" fill="#000"/>
<rect x="708" y="478" width="4" height="1" fill="#000"/>
<rect x="706" y="482" width="7" height="3" fill="#000"/>
<rect x="717" y="475" width="4" height="1" fill="#000"/>
<rect x="715" y="476" width="7" height="2" fill="#000"/>
<rect x="717" y="478" width="4" height="1" fill="#000"/>
<rect x="715" y="482" width="7" height="3" fill="#000"/>
<rect x="617.5" y="486.5" width="7" height="6" fill="none" stroke="#000" stroke-width="1"/>
<rect x="626.5" y="486.5" width="7" height="6" fill="none" stroke="#000" stroke-width="1"/>
<rect x="636.5" y="486.5" width="7" height="6" fill="none" stroke="#000" stroke-width="1"/>
<rect x="645.5" y="486.5" width="7" height="6" fill="none" stroke="#000" stroke-width="1"/>
<rect x="654.5" y="486.5" width="7" height="6" fill="none" stroke="#000" stroke-width="1"/>
<rect x="663.5" y="486.5" width="7" height="6" fill="none" stroke="#000" stroke-width="1"/>
<rect x="673.5" y="486.5" width="7" height="6" fill="none" stroke="#000" stroke-width="1"/>
<rect x="682.5" y="486.5" width="7" height="6" fill="none" stroke="#000" stroke-width="1"/>
<rect x="691.5" y="486.5" width="7" height="6" fill="none" stroke="#000" stroke-width="1"/>
<rect x="701.5" y="486.5" width="7" height="6" fill="none" stroke="#000" stroke-width="1"/>
<rect x="712.5" y="486.5" width="7" height="6" fill="none" stroke="#000" stroke-width="1"/>
<rect x="612" y="479" width="112" height="1" fill="#000"/>
<rect x="613" y="486" width="2" height="7" fill="#000"/>
<rect x="611" y="488" width="2" height="3" fill="#fff"/>
<rect x="720" y="486" width="2" height="7" fill="#000"/>
<rect x="723" y="488" width="1" height="3" fill="#fff"/>
</svg>
</body></html>
